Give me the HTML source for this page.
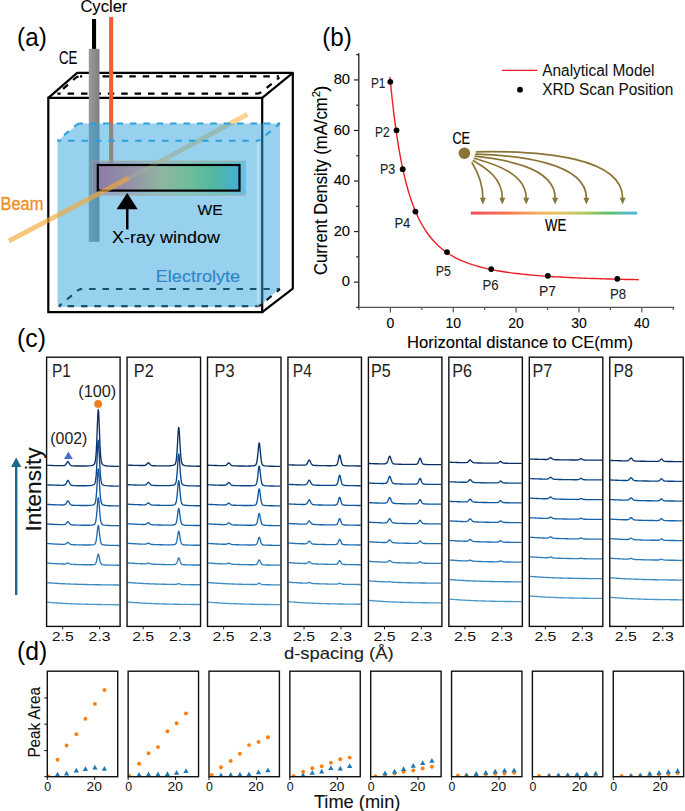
<!DOCTYPE html>
<html><head><meta charset="utf-8"><title>Figure</title>
<style>html,body{margin:0;padding:0;background:#fff;} svg{display:block;} text{font-family:"Liberation Sans", sans-serif;}</style>
</head><body>
<svg width="685" height="811" viewBox="0 0 685 811">
<rect width="685" height="811" fill="#fff"/>
<defs>
<linearGradient id="weg" x1="0" x2="1" y1="0" y2="0"><stop offset="0" stop-color="#8d7ca6"/><stop offset="0.25" stop-color="#9494a8"/><stop offset="0.45" stop-color="#8fb6a0"/><stop offset="0.65" stop-color="#6dbd9c"/><stop offset="0.82" stop-color="#52b8a2"/><stop offset="1" stop-color="#45aed8"/></linearGradient>
<linearGradient id="barg" x1="0" x2="1" y1="0" y2="0"><stop offset="0" stop-color="#f04a5c"/><stop offset="0.22" stop-color="#f2784e"/><stop offset="0.4" stop-color="#f5b060"/><stop offset="0.55" stop-color="#e2c862"/><stop offset="0.7" stop-color="#a8c860"/><stop offset="0.83" stop-color="#62c070"/><stop offset="1" stop-color="#4cb8e8"/></linearGradient>
<linearGradient id="rodg" x1="0" x2="1" y1="0" y2="0"><stop offset="0" stop-color="#9a9a9a"/><stop offset="0.5" stop-color="#8e8e8e"/><stop offset="1" stop-color="#7e7e7e"/></linearGradient>
</defs>
<g fill="none" stroke="#000" stroke-width="2.2" stroke-linejoin="round">
<path d="M48.3,97.8 L77.2,72.9 L292.8,72.9 L292.8,288.6 L262.2,312.1"/>
<path d="M262.2,97.8 L292.8,72.9"/>
</g>
<line x1="57.5" y1="93.7" x2="257" y2="93.7" stroke="#000" stroke-width="2.2" stroke-dasharray="6.5,6.9" stroke-dashoffset="3.30" />
<line x1="80" y1="76.4" x2="279" y2="76.4" stroke="#000" stroke-width="2.2" stroke-dasharray="6.5,6.9" stroke-dashoffset="4.30" />
<path d="M57.5,93.7 L75.5,78 Q77.5,76.4 80,76.4" fill="none" stroke="#000" stroke-width="2.2" stroke-dasharray="6.5,6.9" stroke-dashoffset="6"/>
<path d="M257,93.7 Q259.5,93.7 261.5,92 L279.5,77.5" fill="none" stroke="#000" stroke-width="2.2" stroke-dasharray="6.5,6.9" stroke-dashoffset="2"/>
<line x1="59" y1="306.2" x2="257" y2="306.2" stroke="#000" stroke-width="2.2" stroke-dasharray="6.5,6.9" stroke-dashoffset="4.80" />
<line x1="80" y1="289" x2="280" y2="289" stroke="#000" stroke-width="2.2" stroke-dasharray="6.5,6.9" stroke-dashoffset="4.30" />
<path d="M59,306.2 L77,291 Q79,289 82,289" fill="none" stroke="#000" stroke-width="2.2" stroke-dasharray="6.5,6.9" stroke-dashoffset="3"/>
<path d="M257,306.2 Q259,306.2 261,304.6 L280,289" fill="none" stroke="#000" stroke-width="2.2" stroke-dasharray="6.5,6.9" stroke-dashoffset="2"/>
<line x1="128.5" y1="178.6" x2="247.5" y2="114.3" stroke="#fbc878" stroke-width="5" stroke-opacity="0.8"/>
<path d="M48.3,97.8 L48.3,312.1 L262.2,312.1 L262.2,97.8 Z" fill="none" stroke="#000" stroke-width="2.2"/>
<rect x="92" y="19" width="4.1" height="30" fill="#000"/>
<rect x="88.8" y="48.8" width="10.7" height="193" fill="url(#rodg)"/>
<rect x="109.1" y="17" width="4.1" height="146" fill="#f0602a"/>
<path d="M57.5,140.7 L79,123.5 L280,123.5 L280,288.8 L258,307 L57.5,307 Z" fill="#31a3dd" fill-opacity="0.5"/>
<rect x="257" y="140.7" width="2.2" height="166.3" fill="#ffffff" fill-opacity="0.3"/>
<line x1="57.5" y1="140.7" x2="257" y2="140.7" stroke="#2aa0dc" stroke-width="2.1" stroke-dasharray="6.5,6.9" stroke-dashoffset="2.75" />
<line x1="80" y1="123.5" x2="280" y2="123.5" stroke="#2aa0dc" stroke-width="2.1" stroke-dasharray="6.5,6.9" stroke-dashoffset="3.70" />
<path d="M57.5,140.7 L76,125.2 Q78,123.5 80.5,123.5" fill="none" stroke="#2aa0dc" stroke-width="2.1" stroke-dasharray="6.5,6.9" stroke-dashoffset="5"/>
<path d="M257,140.7 Q259,140.7 261,139.1 L280,123.5" fill="none" stroke="#2aa0dc" stroke-width="2.1" stroke-dasharray="6.5,6.9" stroke-dashoffset="3"/>
<rect x="92.6" y="161" width="152.8" height="34.2" fill="url(#weg)" fill-opacity="0.55" stroke="#a8a890" stroke-width="0.8" stroke-opacity="0.8"/>
<rect x="97.8" y="165" width="141.7" height="25.6" fill="url(#weg)" stroke="#000" stroke-width="2.2"/>
<line x1="128.5" y1="178.6" x2="170" y2="156.3" stroke="#d8c090" stroke-width="4" stroke-opacity="0.18"/>
<line x1="9" y1="240.8" x2="128.8" y2="178" stroke="#f2a838" stroke-width="4.8" stroke-opacity="0.66"/>
<path d="M127.2,193 L137.7,209.3 L116.6,209.3 Z" fill="#000"/>
<rect x="126" y="208" width="2.5" height="21.4" fill="#000"/>
<text x="17.10" y="46.10" font-size="26" fill="#000" textLength="29.70" lengthAdjust="spacingAndGlyphs" stroke="#000" stroke-width="0.0" >(a)</text>
<text x="80.40" y="12.40" font-size="15.8" fill="#000" textLength="46.99" lengthAdjust="spacingAndGlyphs" stroke="#000" stroke-width="0.1" >Cycler</text>
<text x="59.00" y="63.90" font-size="17.5" fill="#000" textLength="18.30" lengthAdjust="spacingAndGlyphs" stroke="#000" stroke-width="0.1" >CE</text>
<text x="0.50" y="209.80" font-size="17.5" fill="#f08c20" textLength="42.91" lengthAdjust="spacingAndGlyphs" stroke="#f08c20" stroke-width="0.3" >Beam</text>
<text x="197.40" y="214.70" font-size="15.3" fill="#000" textLength="25.20" lengthAdjust="spacingAndGlyphs" stroke="#000" stroke-width="0.1" >WE</text>
<text x="112.00" y="242.50" font-size="15.6" fill="#000" textLength="107.95" lengthAdjust="spacingAndGlyphs" stroke="#000" stroke-width="0.1" >X-ray window</text>
<text x="155.80" y="281.50" font-size="16.8" fill="#2e86c8" textLength="84.31" lengthAdjust="spacingAndGlyphs" stroke="#2e86c8" stroke-width="0.15" >Electrolyte</text>
<text x="322.30" y="45.50" font-size="26" fill="#000" textLength="29.60" lengthAdjust="spacingAndGlyphs" stroke="#000" stroke-width="0.0" >(b)</text>
<line x1="358.8" y1="53.2" x2="358.8" y2="308" stroke="#222" stroke-width="1.3"/>
<line x1="358.2" y1="307.4" x2="674.2" y2="307.4" stroke="#555" stroke-width="1.4"/>
<line x1="356.20" y1="307.37" x2="358.8" y2="307.37" stroke="#222" stroke-width="1.2"/>
<line x1="354.00" y1="282.10" x2="358.8" y2="282.10" stroke="#222" stroke-width="1.2"/>
<line x1="356.20" y1="256.83" x2="358.8" y2="256.83" stroke="#222" stroke-width="1.2"/>
<line x1="354.00" y1="231.56" x2="358.8" y2="231.56" stroke="#222" stroke-width="1.2"/>
<line x1="356.20" y1="206.29" x2="358.8" y2="206.29" stroke="#222" stroke-width="1.2"/>
<line x1="354.00" y1="181.02" x2="358.8" y2="181.02" stroke="#222" stroke-width="1.2"/>
<line x1="356.20" y1="155.75" x2="358.8" y2="155.75" stroke="#222" stroke-width="1.2"/>
<line x1="354.00" y1="130.48" x2="358.8" y2="130.48" stroke="#222" stroke-width="1.2"/>
<line x1="356.20" y1="105.21" x2="358.8" y2="105.21" stroke="#222" stroke-width="1.2"/>
<line x1="354.00" y1="79.94" x2="358.8" y2="79.94" stroke="#222" stroke-width="1.2"/>
<line x1="356.20" y1="54.67" x2="358.8" y2="54.67" stroke="#222" stroke-width="1.2"/>
<line x1="358.97" y1="307.4" x2="358.97" y2="310.00" stroke="#555" stroke-width="1.2"/>
<line x1="390.40" y1="307.4" x2="390.40" y2="312.40" stroke="#555" stroke-width="1.2"/>
<line x1="421.82" y1="307.4" x2="421.82" y2="310.00" stroke="#555" stroke-width="1.2"/>
<line x1="453.25" y1="307.4" x2="453.25" y2="312.40" stroke="#555" stroke-width="1.2"/>
<line x1="484.67" y1="307.4" x2="484.67" y2="310.00" stroke="#555" stroke-width="1.2"/>
<line x1="516.10" y1="307.4" x2="516.10" y2="312.40" stroke="#555" stroke-width="1.2"/>
<line x1="547.52" y1="307.4" x2="547.52" y2="310.00" stroke="#555" stroke-width="1.2"/>
<line x1="578.95" y1="307.4" x2="578.95" y2="312.40" stroke="#555" stroke-width="1.2"/>
<line x1="610.38" y1="307.4" x2="610.38" y2="310.00" stroke="#555" stroke-width="1.2"/>
<line x1="641.80" y1="307.4" x2="641.80" y2="312.40" stroke="#555" stroke-width="1.2"/>
<line x1="673.22" y1="307.4" x2="673.22" y2="310.00" stroke="#555" stroke-width="1.2"/>
<text x="341.87" y="286.30" font-size="14.8" fill="#000" textLength="8.23" lengthAdjust="spacingAndGlyphs" stroke="#000" stroke-width="0.1" >0</text>
<text x="333.64" y="235.76" font-size="14.8" fill="#000" textLength="16.46" lengthAdjust="spacingAndGlyphs" stroke="#000" stroke-width="0.1" >20</text>
<text x="333.64" y="185.22" font-size="14.8" fill="#000" textLength="16.46" lengthAdjust="spacingAndGlyphs" stroke="#000" stroke-width="0.1" >40</text>
<text x="333.64" y="134.68" font-size="14.8" fill="#000" textLength="16.46" lengthAdjust="spacingAndGlyphs" stroke="#000" stroke-width="0.1" >60</text>
<text x="333.64" y="84.14" font-size="14.8" fill="#000" textLength="16.46" lengthAdjust="spacingAndGlyphs" stroke="#000" stroke-width="0.1" >80</text>
<text x="386.51" y="328.00" font-size="14" fill="#000" textLength="7.79" lengthAdjust="spacingAndGlyphs" stroke="#000" stroke-width="0.1" >0</text>
<text x="445.47" y="328.00" font-size="14" fill="#000" textLength="15.57" lengthAdjust="spacingAndGlyphs" stroke="#000" stroke-width="0.1" >10</text>
<text x="508.32" y="328.00" font-size="14" fill="#000" textLength="15.57" lengthAdjust="spacingAndGlyphs" stroke="#000" stroke-width="0.1" >20</text>
<text x="571.17" y="328.00" font-size="14" fill="#000" textLength="15.57" lengthAdjust="spacingAndGlyphs" stroke="#000" stroke-width="0.1" >30</text>
<text x="634.02" y="328.00" font-size="14" fill="#000" textLength="15.57" lengthAdjust="spacingAndGlyphs" stroke="#000" stroke-width="0.1" >40</text>
<text x="407.00" y="347.80" font-size="16.5" fill="#000" textLength="226.01" lengthAdjust="spacingAndGlyphs" stroke="#000" stroke-width="0.1" >Horizontal distance to CE(mm)</text>
<text transform="translate(326.90,275.00) rotate(-90)" x="0" y="0" font-size="17.5" fill="#000" textLength="177.69" lengthAdjust="spacingAndGlyphs" stroke="#000" stroke-width="0.1">Current Density (mA/cm</text>
<text transform="translate(319.80,97.30) rotate(-90)" x="0" y="0" font-size="11" fill="#000" textLength="6.20" lengthAdjust="spacingAndGlyphs" stroke="#000" stroke-width="0.1">2</text>
<text transform="translate(326.90,91.70) rotate(-90)" x="0" y="0" font-size="17.5" fill="#000" textLength="6.10" lengthAdjust="spacingAndGlyphs" stroke="#000" stroke-width="0.1">)</text>
<path d="M389.96,76.92 L390.59,83.56 L391.22,89.90 L391.85,95.95 L392.47,101.73 L393.10,107.27 L393.73,112.56 L394.36,117.63 L394.99,122.49 L395.62,127.14 L396.25,131.61 L396.87,135.89 L397.50,140.00 L398.13,143.95 L398.76,147.75 L399.39,151.39 L400.02,154.90 L400.64,158.28 L401.27,161.53 L401.90,164.66 L402.53,167.68 L403.16,170.58 L403.79,173.39 L404.42,176.09 L405.04,178.70 L405.67,181.22 L406.30,183.65 L406.93,186.00 L407.56,188.27 L408.19,190.47 L408.82,192.59 L409.44,194.64 L410.07,196.63 L410.70,198.55 L411.33,200.42 L411.96,202.22 L412.59,203.97 L413.21,205.66 L413.84,207.30 L414.47,208.90 L415.10,210.44 L415.73,211.94 L416.36,213.40 L416.99,214.81 L417.61,216.18 L418.24,217.51 L418.87,218.80 L419.50,220.06 L420.13,221.28 L420.76,222.47 L421.39,223.63 L422.01,224.75 L425.16,229.93 L428.30,234.47 L431.44,238.47 L434.58,242.01 L437.73,245.15 L440.87,247.95 L444.01,250.46 L447.15,252.72 L450.30,254.75 L453.44,256.59 L456.58,258.26 L459.72,259.78 L462.87,261.16 L466.01,262.42 L469.15,263.58 L472.29,264.65 L475.44,265.63 L478.58,266.53 L481.72,267.36 L484.86,268.13 L488.01,268.85 L491.15,269.51 L494.29,270.13 L497.43,270.71 L500.58,271.24 L503.72,271.75 L506.86,272.22 L510.00,272.66 L513.15,273.07 L516.29,273.46 L519.43,273.82 L522.57,274.16 L525.72,274.48 L528.86,274.79 L532.00,275.08 L535.14,275.35 L538.29,275.61 L541.43,275.85 L544.57,276.08 L547.71,276.30 L550.86,276.50 L554.00,276.70 L557.14,276.89 L560.28,277.07 L563.43,277.24 L566.57,277.40 L569.71,277.55 L572.85,277.70 L576.00,277.84 L579.14,277.97 L582.28,278.10 L585.42,278.23 L588.57,278.34 L591.71,278.45 L594.85,278.56 L597.99,278.67 L601.14,278.76 L604.28,278.86 L607.42,278.95 L610.56,279.04 L613.71,279.12 L616.85,279.20 L619.99,279.28 L623.13,279.36 L626.28,279.43 L629.42,279.50 L632.56,279.56 L635.70,279.63 L638.85,279.69" fill="none" stroke="#ee1c24" stroke-width="1.4"/>
<circle cx="390.3" cy="81.8" r="2.9" fill="#000"/>
<circle cx="396.5" cy="130.3" r="2.9" fill="#000"/>
<circle cx="402.7" cy="169.2" r="2.9" fill="#000"/>
<circle cx="415.4" cy="211.6" r="2.9" fill="#000"/>
<circle cx="447" cy="252.1" r="2.9" fill="#000"/>
<circle cx="491.2" cy="269.1" r="2.9" fill="#000"/>
<circle cx="547.8" cy="275.8" r="2.9" fill="#000"/>
<circle cx="617.3" cy="278.8" r="2.9" fill="#000"/>
<text x="370.90" y="87.70" font-size="14.4" fill="#222" textLength="14.50" lengthAdjust="spacingAndGlyphs" stroke="#222" stroke-width="0.1" >P1</text>
<text x="375.00" y="137.00" font-size="14.4" fill="#222" textLength="14.60" lengthAdjust="spacingAndGlyphs" stroke="#222" stroke-width="0.1" >P2</text>
<text x="380.00" y="174.30" font-size="14.4" fill="#222" textLength="15.30" lengthAdjust="spacingAndGlyphs" stroke="#222" stroke-width="0.1" >P3</text>
<text x="394.40" y="227.50" font-size="14.4" fill="#222" textLength="16.00" lengthAdjust="spacingAndGlyphs" stroke="#222" stroke-width="0.1" >P4</text>
<text x="435.80" y="275.60" font-size="14.4" fill="#222" textLength="15.20" lengthAdjust="spacingAndGlyphs" stroke="#222" stroke-width="0.1" >P5</text>
<text x="482.50" y="290.00" font-size="14.4" fill="#222" textLength="16.10" lengthAdjust="spacingAndGlyphs" stroke="#222" stroke-width="0.1" >P6</text>
<text x="539.00" y="295.70" font-size="14.4" fill="#222" textLength="17.00" lengthAdjust="spacingAndGlyphs" stroke="#222" stroke-width="0.1" >P7</text>
<text x="610.00" y="298.60" font-size="14.4" fill="#222" textLength="16.20" lengthAdjust="spacingAndGlyphs" stroke="#222" stroke-width="0.1" >P8</text>
<line x1="501.9" y1="70.3" x2="537.4" y2="70.3" stroke="#ee1c24" stroke-width="1.3"/>
<text x="542.20" y="75.80" font-size="15.6" fill="#111" textLength="112.30" lengthAdjust="spacingAndGlyphs" stroke="#111" stroke-width="0.05" >Analytical Model</text>
<circle cx="520" cy="89.7" r="2.9" fill="#000"/>
<text x="542.20" y="95.20" font-size="15.6" fill="#111" textLength="131.20" lengthAdjust="spacingAndGlyphs" stroke="#111" stroke-width="0.05" >XRD Scan Position</text>
<circle cx="464.4" cy="153.2" r="5.8" fill="#8b7536"/>
<text x="452.40" y="144.00" font-size="16" fill="#000" textLength="17.60" lengthAdjust="spacingAndGlyphs" stroke="#000" stroke-width="0.2" >CE</text>
<path d="M471.8,162.3 C476.5,170 482.9,183 482.9,198" fill="none" stroke="#8b7536" stroke-width="1.7"/>
<path d="M479.9,197.8 L485.9,197.8 L482.9,204.6 Z" fill="#8b7536"/>
<path d="M472.8,160.2 C482,166 502.3,176 502.3,198" fill="none" stroke="#8b7536" stroke-width="1.7"/>
<path d="M499.3,197.8 L505.3,197.8 L502.3,204.6 Z" fill="#8b7536"/>
<path d="M473.8,158.2 C490,163 526.2,172 526.2,198" fill="none" stroke="#8b7536" stroke-width="1.7"/>
<path d="M523.2,197.8 L529.2,197.8 L526.2,204.6 Z" fill="#8b7536"/>
<path d="M474.6,156.2 C500,159 555.1,166 555.1,198" fill="none" stroke="#8b7536" stroke-width="1.7"/>
<path d="M552.1,197.8 L558.1,197.8 L555.1,204.6 Z" fill="#8b7536"/>
<path d="M475.2,154.2 C515,155 586.4,162 586.4,198" fill="none" stroke="#8b7536" stroke-width="1.7"/>
<path d="M583.4,197.8 L589.4,197.8 L586.4,204.6 Z" fill="#8b7536"/>
<path d="M475.8,151.8 C545,150.5 622.6,158 622.6,198" fill="none" stroke="#8b7536" stroke-width="1.7"/>
<path d="M619.6,197.8 L625.6,197.8 L622.6,204.6 Z" fill="#8b7536"/>
<rect x="470.8" y="211.6" width="166.3" height="3" fill="url(#barg)"/>
<text x="545.10" y="230.70" font-size="17" fill="#000" textLength="21.10" lengthAdjust="spacingAndGlyphs" stroke="#000" stroke-width="0.2" >WE</text>
<text x="17.10" y="346.70" font-size="26" fill="#000" textLength="28.90" lengthAdjust="spacingAndGlyphs" stroke="#000" stroke-width="0.0" >(c)</text>
<clipPath id="cc0"><rect x="47.2" y="357.2" width="72.3" height="269.2"/></clipPath>
<g clip-path="url(#cc0)" fill="none" stroke-width="1.35" stroke-linejoin="round">
<path d="M46.60,602.15 L48.10,602.29 L49.60,602.42 L51.10,602.55 L52.60,602.67 L54.10,602.78 L55.60,602.89 L57.10,602.99 L58.60,603.09 L60.10,603.18 L61.60,603.27 L63.10,603.35 L63.50,603.38 L63.90,603.40 L64.30,603.42 L64.70,603.44 L65.10,603.46 L65.50,603.48 L65.90,603.50 L66.30,603.52 L66.70,603.54 L67.10,603.56 L67.50,603.58 L67.90,603.60 L68.30,603.62 L68.70,603.63 L69.10,603.65 L69.50,603.67 L69.90,603.69 L70.30,603.70 L70.70,603.72 L71.10,603.74 L71.50,603.75 L71.90,603.77 L72.30,603.79 L72.70,603.80 L73.10,603.82 L73.50,603.83 L73.90,603.85 L74.30,603.87 L75.80,603.92 L77.30,603.97 L78.80,604.02 L80.30,604.07 L81.80,604.12 L83.30,604.16 L84.80,604.20 L86.30,604.24 L87.80,604.27 L89.30,604.31 L90.80,604.34 L92.30,604.38 L93.80,604.41 L94.20,604.41 L94.60,604.42 L95.00,604.43 L95.40,604.44 L95.80,604.44 L96.20,604.45 L96.60,604.46 L97.00,604.47 L97.40,604.47 L97.80,604.48 L98.20,604.49 L98.60,604.49 L99.00,604.50 L99.40,604.51 L99.80,604.51 L100.20,604.52 L100.60,604.53 L101.00,604.53 L101.40,604.54 L101.80,604.54 L102.20,604.55 L102.60,604.56 L103.00,604.56 L103.40,604.57 L103.80,604.57 L104.20,604.58 L104.60,604.58 L106.10,604.60 L107.60,604.62 L109.10,604.64 L110.60,604.66 L112.10,604.67 L113.60,604.69 L115.10,604.71 L116.60,604.72 L118.10,604.73 L119.60,604.75" stroke="#4a98c9"/>
<path d="M46.60,582.60 L48.10,582.73 L49.60,582.85 L51.10,582.97 L52.60,583.08 L54.10,583.18 L55.60,583.28 L57.10,583.38 L58.60,583.47 L60.10,583.55 L61.60,583.63 L63.10,583.71 L63.50,583.73 L63.90,583.75 L64.30,583.77 L64.70,583.79 L65.10,583.81 L65.50,583.83 L65.90,583.85 L66.30,583.86 L66.70,583.88 L67.10,583.90 L67.50,583.92 L67.90,583.94 L68.30,583.95 L68.70,583.97 L69.10,583.99 L69.50,584.00 L69.90,584.02 L70.30,584.03 L70.70,584.05 L71.10,584.07 L71.50,584.08 L71.90,584.10 L72.30,584.11 L72.70,584.13 L73.10,584.14 L73.50,584.16 L73.90,584.17 L74.30,584.18 L75.80,584.23 L77.30,584.28 L78.80,584.33 L80.30,584.37 L81.80,584.41 L83.30,584.45 L84.80,584.49 L86.30,584.53 L87.80,584.56 L89.30,584.59 L90.80,584.62 L92.30,584.65 L93.80,584.68 L94.20,584.69 L94.60,584.70 L95.00,584.70 L95.40,584.71 L95.80,584.72 L96.20,584.72 L96.60,584.73 L97.00,584.74 L97.40,584.74 L97.80,584.75 L98.20,584.76 L98.60,584.76 L99.00,584.77 L99.40,584.77 L99.80,584.78 L100.20,584.79 L100.60,584.79 L101.00,584.80 L101.40,584.80 L101.80,584.81 L102.20,584.82 L102.60,584.82 L103.00,584.83 L103.40,584.83 L103.80,584.84 L104.20,584.84 L104.60,584.85 L106.10,584.87 L107.60,584.88 L109.10,584.90 L110.60,584.92 L112.10,584.93 L113.60,584.95 L115.10,584.96 L116.60,584.97 L118.10,584.98 L119.60,585.00" stroke="#3b8bc2"/>
<path d="M46.60,563.04 L48.10,563.16 L49.60,563.27 L51.10,563.38 L52.60,563.48 L54.10,563.57 L55.60,563.66 L57.10,563.75 L58.60,563.83 L60.10,563.90 L61.60,563.97 L63.10,564.02 L63.50,564.03 L63.90,564.03 L64.30,564.02 L64.70,564.00 L65.10,563.95 L65.50,563.88 L65.90,563.76 L66.30,563.60 L66.70,563.42 L67.10,563.24 L67.50,563.11 L67.90,563.07 L68.30,563.14 L68.70,563.30 L69.10,563.51 L69.50,563.73 L69.90,563.91 L70.30,564.06 L70.70,564.17 L71.10,564.25 L71.50,564.30 L71.90,564.34 L72.30,564.37 L72.70,564.39 L73.10,564.41 L73.50,564.43 L73.90,564.45 L74.30,564.46 L75.80,564.52 L77.30,564.56 L78.80,564.61 L80.30,564.64 L81.80,564.68 L83.30,564.71 L84.80,564.74 L86.30,564.76 L87.80,564.78 L89.30,564.78 L90.80,564.77 L92.30,564.73 L93.80,564.61 L94.20,564.54 L94.60,564.43 L95.00,564.24 L95.40,563.89 L95.80,563.29 L96.20,562.31 L96.60,560.87 L97.00,559.01 L97.40,556.92 L97.80,555.06 L98.20,554.07 L98.60,554.42 L99.00,555.94 L99.40,558.00 L99.80,560.03 L100.20,561.70 L100.60,562.92 L101.00,563.71 L101.40,564.18 L101.80,564.45 L102.20,564.61 L102.60,564.71 L103.00,564.77 L103.40,564.82 L103.80,564.86 L104.20,564.90 L104.60,564.93 L106.10,565.01 L107.60,565.06 L109.10,565.09 L110.60,565.12 L112.10,565.15 L113.60,565.17 L115.10,565.19 L116.60,565.20 L118.10,565.22 L119.60,565.23" stroke="#2e7ebc"/>
<path d="M46.60,543.49 L48.10,543.60 L49.60,543.70 L51.10,543.79 L52.60,543.88 L54.10,543.97 L55.60,544.05 L57.10,544.12 L58.60,544.19 L60.10,544.25 L61.60,544.30 L63.10,544.34 L63.50,544.33 L63.90,544.32 L64.30,544.29 L64.70,544.24 L65.10,544.13 L65.50,543.97 L65.90,543.74 L66.30,543.44 L66.70,543.09 L67.10,542.75 L67.50,542.49 L67.90,542.40 L68.30,542.52 L68.70,542.81 L69.10,543.18 L69.50,543.55 L69.90,543.88 L70.30,544.14 L70.70,544.33 L71.10,544.46 L71.50,544.55 L71.90,544.60 L72.30,544.64 L72.70,544.67 L73.10,544.69 L73.50,544.72 L73.90,544.73 L74.30,544.75 L75.80,544.80 L77.30,544.85 L78.80,544.89 L80.30,544.92 L81.80,544.95 L83.30,544.98 L84.80,544.99 L86.30,545.01 L87.80,545.01 L89.30,544.99 L90.80,544.95 L92.30,544.85 L93.80,544.60 L94.20,544.47 L94.60,544.26 L95.00,543.91 L95.40,543.27 L95.80,542.16 L96.20,540.38 L96.60,537.77 L97.00,534.37 L97.40,530.57 L97.80,527.18 L98.20,525.38 L98.60,526.01 L99.00,528.77 L99.40,532.51 L99.80,536.19 L100.20,539.23 L100.60,541.43 L101.00,542.86 L101.40,543.71 L101.80,544.20 L102.20,544.49 L102.60,544.66 L103.00,544.78 L103.40,544.87 L103.80,544.94 L104.20,544.99 L104.60,545.04 L106.10,545.17 L107.60,545.25 L109.10,545.30 L110.60,545.34 L112.10,545.37 L113.60,545.40 L115.10,545.42 L116.60,545.44 L118.10,545.45 L119.60,545.47" stroke="#2070b4"/>
<path d="M46.60,523.94 L48.10,524.03 L49.60,524.12 L51.10,524.21 L52.60,524.29 L54.10,524.36 L55.60,524.43 L57.10,524.50 L58.60,524.56 L60.10,524.61 L61.60,524.64 L63.10,524.65 L63.50,524.64 L63.90,524.62 L64.30,524.56 L64.70,524.47 L65.10,524.31 L65.50,524.07 L65.90,523.73 L66.30,523.28 L66.70,522.77 L67.10,522.26 L67.50,521.87 L67.90,521.73 L68.30,521.90 L68.70,522.31 L69.10,522.84 L69.50,523.38 L69.90,523.85 L70.30,524.22 L70.70,524.49 L71.10,524.67 L71.50,524.79 L71.90,524.86 L72.30,524.91 L72.70,524.95 L73.10,524.98 L73.50,525.00 L73.90,525.02 L74.30,525.04 L75.80,525.09 L77.30,525.14 L78.80,525.17 L80.30,525.20 L81.80,525.23 L83.30,525.24 L84.80,525.25 L86.30,525.26 L87.80,525.24 L89.30,525.21 L90.80,525.13 L92.30,524.98 L93.80,524.63 L94.20,524.44 L94.60,524.15 L95.00,523.64 L95.40,522.75 L95.80,521.20 L96.20,518.70 L96.60,515.03 L97.00,510.28 L97.40,504.95 L97.80,500.21 L98.20,497.68 L98.60,498.57 L99.00,502.43 L99.40,507.65 L99.80,512.81 L100.20,517.06 L100.60,520.14 L101.00,522.14 L101.40,523.33 L101.80,524.01 L102.20,524.41 L102.60,524.65 L103.00,524.81 L103.40,524.93 L103.80,525.03 L104.20,525.11 L104.60,525.17 L106.10,525.34 L107.60,525.44 L109.10,525.51 L110.60,525.56 L112.10,525.60 L113.60,525.63 L115.10,525.65 L116.60,525.67 L118.10,525.69 L119.60,525.70" stroke="#1764ab"/>
<path d="M46.60,504.38 L48.10,504.47 L49.60,504.54 L51.10,504.62 L52.60,504.69 L54.10,504.75 L55.60,504.81 L57.10,504.87 L58.60,504.92 L60.10,504.95 L61.60,504.98 L63.10,504.96 L63.50,504.94 L63.90,504.90 L64.30,504.82 L64.70,504.68 L65.10,504.46 L65.50,504.12 L65.90,503.64 L66.30,503.02 L66.70,502.31 L67.10,501.60 L67.50,501.06 L67.90,500.86 L68.30,501.09 L68.70,501.65 L69.10,502.37 L69.50,503.10 L69.90,503.75 L70.30,504.25 L70.70,504.61 L71.10,504.86 L71.50,505.01 L71.90,505.11 L72.30,505.18 L72.70,505.22 L73.10,505.25 L73.50,505.28 L73.90,505.30 L74.30,505.32 L75.80,505.38 L77.30,505.42 L78.80,505.45 L80.30,505.48 L81.80,505.50 L83.30,505.51 L84.80,505.51 L86.30,505.50 L87.80,505.47 L89.30,505.41 L90.80,505.31 L92.30,505.09 L93.80,504.62 L94.20,504.37 L94.60,503.98 L95.00,503.31 L95.40,502.13 L95.80,500.08 L96.20,496.77 L96.60,491.93 L97.00,485.64 L97.40,478.60 L97.80,472.33 L98.20,468.98 L98.60,470.16 L99.00,475.26 L99.40,482.16 L99.80,488.97 L100.20,494.59 L100.60,498.65 L101.00,501.29 L101.40,502.87 L101.80,503.77 L102.20,504.28 L102.60,504.60 L103.00,504.82 L103.40,504.97 L103.80,505.10 L104.20,505.20 L104.60,505.29 L106.10,505.50 L107.60,505.63 L109.10,505.72 L110.60,505.78 L112.10,505.82 L113.60,505.85 L115.10,505.88 L116.60,505.90 L118.10,505.92 L119.60,505.94" stroke="#0d57a1"/>
<path d="M46.60,484.83 L48.10,484.90 L49.60,484.97 L51.10,485.03 L52.60,485.09 L54.10,485.15 L55.60,485.20 L57.10,485.24 L58.60,485.28 L60.10,485.31 L61.60,485.32 L63.10,485.28 L63.50,485.25 L63.90,485.20 L64.30,485.10 L64.70,484.94 L65.10,484.67 L65.50,484.27 L65.90,483.69 L66.30,482.96 L66.70,482.11 L67.10,481.28 L67.50,480.64 L67.90,480.39 L68.30,480.65 L68.70,481.31 L69.10,482.17 L69.50,483.03 L69.90,483.78 L70.30,484.38 L70.70,484.80 L71.10,485.09 L71.50,485.27 L71.90,485.38 L72.30,485.45 L72.70,485.50 L73.10,485.54 L73.50,485.57 L73.90,485.59 L74.30,485.61 L75.80,485.67 L77.30,485.71 L78.80,485.74 L80.30,485.76 L81.80,485.77 L83.30,485.77 L84.80,485.77 L86.30,485.74 L87.80,485.70 L89.30,485.62 L90.80,485.48 L92.30,485.21 L93.80,484.61 L94.20,484.30 L94.60,483.81 L95.00,482.98 L95.40,481.50 L95.80,478.96 L96.20,474.84 L96.60,468.82 L97.00,461.00 L97.40,452.25 L97.80,444.45 L98.20,440.29 L98.60,441.75 L99.00,448.09 L99.40,456.67 L99.80,465.13 L100.20,472.11 L100.60,477.17 L101.00,480.45 L101.40,482.40 L101.80,483.52 L102.20,484.16 L102.60,484.56 L103.00,484.82 L103.40,485.02 L103.80,485.17 L104.20,485.30 L104.60,485.40 L106.10,485.67 L107.60,485.82 L109.10,485.92 L110.60,485.99 L112.10,486.04 L113.60,486.08 L115.10,486.11 L116.60,486.14 L118.10,486.16 L119.60,486.18" stroke="#08468a"/>
<path d="M46.60,465.28 L48.10,465.34 L49.60,465.40 L51.10,465.45 L52.60,465.50 L54.10,465.55 L55.60,465.59 L57.10,465.63 L58.60,465.66 L60.10,465.69 L61.60,465.70 L63.10,465.67 L63.50,465.64 L63.90,465.60 L64.30,465.52 L64.70,465.38 L65.10,465.16 L65.50,464.83 L65.90,464.35 L66.30,463.74 L66.70,463.05 L67.10,462.36 L67.50,461.82 L67.90,461.63 L68.30,461.84 L68.70,462.39 L69.10,463.09 L69.50,463.80 L69.90,464.43 L70.30,464.92 L70.70,465.27 L71.10,465.50 L71.50,465.65 L71.90,465.75 L72.30,465.81 L72.70,465.85 L73.10,465.88 L73.50,465.90 L73.90,465.92 L74.30,465.94 L75.80,465.98 L77.30,466.01 L78.80,466.03 L80.30,466.04 L81.80,466.04 L83.30,466.04 L84.80,466.02 L86.30,465.98 L87.80,465.92 L89.30,465.82 L90.80,465.63 L92.30,465.29 L93.80,464.55 L94.20,464.16 L94.60,463.55 L95.00,462.52 L95.40,460.69 L95.80,457.53 L96.20,452.43 L96.60,444.97 L97.00,435.27 L97.40,424.43 L97.80,414.76 L98.20,409.61 L98.60,411.41 L99.00,419.27 L99.40,429.90 L99.80,440.38 L100.20,449.03 L100.60,455.29 L101.00,459.36 L101.40,461.78 L101.80,463.16 L102.20,463.96 L102.60,464.44 L103.00,464.77 L103.40,465.01 L103.80,465.20 L104.20,465.35 L104.60,465.48 L106.10,465.81 L107.60,466.00 L109.10,466.12 L110.60,466.20 L112.10,466.26 L113.60,466.31 L115.10,466.34 L116.60,466.37 L118.10,466.39 L119.60,466.41" stroke="#08306b"/>
</g>
<rect x="46.6" y="357.2" width="73.5" height="269.2" fill="none" stroke="#111" stroke-width="1.4"/>
<line x1="62.70" y1="626.4" x2="62.70" y2="629.4" stroke="#222" stroke-width="1"/>
<line x1="99.60" y1="626.4" x2="99.60" y2="629.4" stroke="#222" stroke-width="1"/>
<text x="51.74" y="641.00" font-size="13.6" fill="#111" textLength="21.93" lengthAdjust="spacingAndGlyphs" stroke="#111" stroke-width="0" >2.5</text>
<text x="88.64" y="641.00" font-size="13.6" fill="#111" textLength="21.93" lengthAdjust="spacingAndGlyphs" stroke="#111" stroke-width="0" >2.3</text>
<clipPath id="cc1"><rect x="127.65" y="357.2" width="72.3" height="269.2"/></clipPath>
<g clip-path="url(#cc1)" fill="none" stroke-width="1.35" stroke-linejoin="round">
<path d="M127.05,601.95 L128.55,602.09 L130.05,602.22 L131.55,602.35 L133.05,602.47 L134.55,602.58 L136.05,602.69 L137.55,602.79 L139.05,602.89 L140.55,602.98 L142.05,603.07 L143.55,603.15 L143.95,603.18 L144.35,603.20 L144.75,603.22 L145.15,603.24 L145.55,603.26 L145.95,603.28 L146.35,603.30 L146.75,603.32 L147.15,603.34 L147.55,603.36 L147.95,603.38 L148.35,603.40 L148.75,603.42 L149.15,603.43 L149.55,603.45 L149.95,603.47 L150.35,603.49 L150.75,603.50 L151.15,603.52 L151.55,603.54 L151.95,603.55 L152.35,603.57 L152.75,603.59 L153.15,603.60 L153.55,603.62 L153.95,603.63 L154.35,603.65 L154.75,603.67 L156.25,603.72 L157.75,603.77 L159.25,603.82 L160.75,603.87 L162.25,603.92 L163.75,603.96 L165.25,604.00 L166.75,604.04 L168.25,604.07 L169.75,604.11 L171.25,604.14 L172.75,604.18 L174.25,604.21 L174.65,604.21 L175.05,604.22 L175.45,604.23 L175.85,604.24 L176.25,604.24 L176.65,604.25 L177.05,604.26 L177.45,604.27 L177.85,604.27 L178.25,604.28 L178.65,604.29 L179.05,604.29 L179.45,604.30 L179.85,604.31 L180.25,604.31 L180.65,604.32 L181.05,604.33 L181.45,604.33 L181.85,604.34 L182.25,604.34 L182.65,604.35 L183.05,604.36 L183.45,604.36 L183.85,604.37 L184.25,604.37 L184.65,604.38 L185.05,604.38 L186.55,604.40 L188.05,604.42 L189.55,604.44 L191.05,604.46 L192.55,604.47 L194.05,604.49 L195.55,604.51 L197.05,604.52 L198.55,604.53 L200.05,604.55" stroke="#4a98c9"/>
<path d="M127.05,582.40 L128.55,582.53 L130.05,582.65 L131.55,582.77 L133.05,582.88 L134.55,582.98 L136.05,583.08 L137.55,583.18 L139.05,583.27 L140.55,583.35 L142.05,583.43 L143.55,583.51 L143.95,583.53 L144.35,583.55 L144.75,583.57 L145.15,583.59 L145.55,583.61 L145.95,583.63 L146.35,583.65 L146.75,583.66 L147.15,583.68 L147.55,583.70 L147.95,583.72 L148.35,583.73 L148.75,583.75 L149.15,583.77 L149.55,583.79 L149.95,583.80 L150.35,583.82 L150.75,583.83 L151.15,583.85 L151.55,583.87 L151.95,583.88 L152.35,583.90 L152.75,583.91 L153.15,583.93 L153.55,583.94 L153.95,583.95 L154.35,583.97 L154.75,583.98 L156.25,584.03 L157.75,584.08 L159.25,584.13 L160.75,584.17 L162.25,584.21 L163.75,584.25 L165.25,584.29 L166.75,584.32 L168.25,584.36 L169.75,584.39 L171.25,584.41 L172.75,584.44 L174.25,584.45 L174.65,584.45 L175.05,584.45 L175.45,584.44 L175.85,584.41 L176.25,584.36 L176.65,584.28 L177.05,584.16 L177.45,583.99 L177.85,583.81 L178.25,583.64 L178.65,583.56 L179.05,583.60 L179.45,583.74 L179.85,583.93 L180.25,584.12 L180.65,584.28 L181.05,584.40 L181.45,584.47 L181.85,584.52 L182.25,584.55 L182.65,584.57 L183.05,584.59 L183.45,584.60 L183.85,584.61 L184.25,584.62 L184.65,584.62 L185.05,584.63 L186.55,584.65 L188.05,584.68 L189.55,584.69 L191.05,584.71 L192.55,584.73 L194.05,584.74 L195.55,584.76 L197.05,584.77 L198.55,584.78 L200.05,584.79" stroke="#3b8bc2"/>
<path d="M127.05,562.85 L128.55,562.96 L130.05,563.07 L131.55,563.18 L133.05,563.28 L134.55,563.38 L136.05,563.47 L137.55,563.55 L139.05,563.63 L140.55,563.71 L142.05,563.77 L143.55,563.83 L143.95,563.84 L144.35,563.84 L144.75,563.84 L145.15,563.83 L145.55,563.79 L145.95,563.73 L146.35,563.63 L146.75,563.50 L147.15,563.36 L147.55,563.21 L147.95,563.10 L148.35,563.07 L148.75,563.13 L149.15,563.27 L149.55,563.45 L149.95,563.63 L150.35,563.79 L150.75,563.91 L151.15,564.01 L151.55,564.08 L151.95,564.12 L152.35,564.16 L152.75,564.18 L153.15,564.21 L153.55,564.22 L153.95,564.24 L154.35,564.26 L154.75,564.27 L156.25,564.32 L157.75,564.37 L159.25,564.41 L160.75,564.45 L162.25,564.49 L163.75,564.52 L165.25,564.55 L166.75,564.58 L168.25,564.60 L169.75,564.62 L171.25,564.62 L172.75,564.60 L174.25,564.54 L174.65,564.50 L175.05,564.43 L175.45,564.31 L175.85,564.09 L176.25,563.71 L176.65,563.09 L177.05,562.17 L177.45,560.99 L177.85,559.66 L178.25,558.48 L178.65,557.85 L179.05,558.08 L179.45,559.05 L179.85,560.36 L180.25,561.65 L180.65,562.72 L181.05,563.50 L181.45,564.00 L181.85,564.30 L182.25,564.48 L182.65,564.58 L183.05,564.64 L183.45,564.69 L183.85,564.72 L184.25,564.75 L184.65,564.77 L185.05,564.79 L186.55,564.85 L188.05,564.89 L189.55,564.92 L191.05,564.94 L192.55,564.96 L194.05,564.98 L195.55,565.00 L197.05,565.01 L198.55,565.02 L200.05,565.04" stroke="#2e7ebc"/>
<path d="M127.05,543.29 L128.55,543.40 L130.05,543.50 L131.55,543.60 L133.05,543.69 L134.55,543.77 L136.05,543.86 L137.55,543.93 L139.05,544.00 L140.55,544.07 L142.05,544.13 L143.55,544.17 L143.95,544.18 L144.35,544.18 L144.75,544.17 L145.15,544.15 L145.55,544.10 L145.95,544.02 L146.35,543.90 L146.75,543.74 L147.15,543.56 L147.55,543.38 L147.95,543.25 L148.35,543.20 L148.75,543.27 L149.15,543.44 L149.55,543.65 L149.95,543.86 L150.35,544.04 L150.75,544.19 L151.15,544.30 L151.55,544.38 L151.95,544.43 L152.35,544.47 L152.75,544.49 L153.15,544.51 L153.55,544.53 L153.95,544.55 L154.35,544.56 L154.75,544.58 L156.25,544.63 L157.75,544.67 L159.25,544.71 L160.75,544.74 L162.25,544.77 L163.75,544.80 L165.25,544.82 L166.75,544.84 L168.25,544.85 L169.75,544.84 L171.25,544.82 L172.75,544.76 L174.25,544.59 L174.65,544.50 L175.05,544.36 L175.45,544.11 L175.85,543.67 L176.25,542.90 L176.65,541.65 L177.05,539.82 L177.45,537.44 L177.85,534.78 L178.25,532.41 L178.65,531.15 L179.05,531.60 L179.45,533.53 L179.85,536.15 L180.25,538.73 L180.65,540.86 L181.05,542.40 L181.45,543.40 L181.85,544.00 L182.25,544.34 L182.65,544.54 L183.05,544.67 L183.45,544.75 L183.85,544.81 L184.25,544.86 L184.65,544.91 L185.05,544.94 L186.55,545.03 L188.05,545.09 L189.55,545.13 L191.05,545.17 L192.55,545.19 L194.05,545.21 L195.55,545.23 L197.05,545.25 L198.55,545.26 L200.05,545.28" stroke="#2070b4"/>
<path d="M127.05,523.74 L128.55,523.84 L130.05,523.93 L131.55,524.01 L133.05,524.09 L134.55,524.17 L136.05,524.24 L137.55,524.31 L139.05,524.37 L140.55,524.43 L142.05,524.47 L143.55,524.50 L143.95,524.50 L144.35,524.49 L144.75,524.46 L145.15,524.41 L145.55,524.32 L145.95,524.17 L146.35,523.96 L146.75,523.69 L147.15,523.37 L147.55,523.06 L147.95,522.82 L148.35,522.74 L148.75,522.85 L149.15,523.11 L149.55,523.45 L149.95,523.79 L150.35,524.09 L150.75,524.32 L151.15,524.49 L151.55,524.61 L151.95,524.69 L152.35,524.74 L152.75,524.78 L153.15,524.80 L153.55,524.83 L153.95,524.84 L154.35,524.86 L154.75,524.88 L156.25,524.93 L157.75,524.97 L159.25,525.00 L160.75,525.03 L162.25,525.06 L163.75,525.08 L165.25,525.10 L166.75,525.11 L168.25,525.11 L169.75,525.10 L171.25,525.06 L172.75,524.98 L174.25,524.78 L174.65,524.66 L175.05,524.49 L175.45,524.18 L175.85,523.64 L176.25,522.70 L176.65,521.19 L177.05,518.96 L177.45,516.08 L177.85,512.85 L178.25,509.97 L178.65,508.43 L179.05,508.98 L179.45,511.32 L179.85,514.50 L180.25,517.63 L180.65,520.21 L181.05,522.08 L181.45,523.30 L181.85,524.02 L182.25,524.44 L182.65,524.68 L183.05,524.83 L183.45,524.93 L183.85,525.00 L184.25,525.06 L184.65,525.11 L185.05,525.15 L186.55,525.26 L188.05,525.33 L189.55,525.38 L191.05,525.41 L192.55,525.44 L194.05,525.46 L195.55,525.48 L197.05,525.49 L198.55,525.51 L200.05,525.52" stroke="#1764ab"/>
<path d="M127.05,504.19 L128.55,504.27 L130.05,504.35 L131.55,504.43 L133.05,504.50 L134.55,504.57 L136.05,504.63 L137.55,504.69 L139.05,504.74 L140.55,504.79 L142.05,504.83 L143.55,504.85 L143.95,504.84 L144.35,504.83 L144.75,504.80 L145.15,504.73 L145.55,504.63 L145.95,504.47 L146.35,504.23 L146.75,503.93 L147.15,503.58 L147.55,503.23 L147.95,502.97 L148.35,502.87 L148.75,502.99 L149.15,503.27 L149.55,503.64 L149.95,504.01 L150.35,504.34 L150.75,504.60 L151.15,504.78 L151.55,504.91 L151.95,504.99 L152.35,505.05 L152.75,505.08 L153.15,505.11 L153.55,505.13 L153.95,505.15 L154.35,505.17 L154.75,505.18 L156.25,505.23 L157.75,505.26 L159.25,505.29 L160.75,505.32 L162.25,505.34 L163.75,505.35 L165.25,505.36 L166.75,505.36 L168.25,505.35 L169.75,505.32 L171.25,505.25 L172.75,505.11 L174.25,504.80 L174.65,504.63 L175.05,504.37 L175.45,503.92 L175.85,503.12 L176.25,501.74 L176.65,499.51 L177.05,496.23 L177.45,491.98 L177.85,487.23 L178.25,483.00 L178.65,480.74 L179.05,481.53 L179.45,484.98 L179.85,489.64 L180.25,494.25 L180.65,498.04 L181.05,500.79 L181.45,502.58 L181.85,503.64 L182.25,504.25 L182.65,504.60 L183.05,504.82 L183.45,504.96 L183.85,505.07 L184.25,505.16 L184.65,505.23 L185.05,505.28 L186.55,505.44 L188.05,505.53 L189.55,505.59 L191.05,505.63 L192.55,505.66 L194.05,505.69 L195.55,505.71 L197.05,505.73 L198.55,505.75 L200.05,505.76" stroke="#0d57a1"/>
<path d="M127.05,484.64 L128.55,484.71 L130.05,484.78 L131.55,484.84 L133.05,484.91 L134.55,484.96 L136.05,485.02 L137.55,485.07 L139.05,485.11 L140.55,485.15 L142.05,485.17 L143.55,485.17 L143.95,485.16 L144.35,485.13 L144.75,485.08 L145.15,484.99 L145.55,484.84 L145.95,484.61 L146.35,484.29 L146.75,483.87 L147.15,483.38 L147.55,482.91 L147.95,482.54 L148.35,482.41 L148.75,482.56 L149.15,482.94 L149.55,483.44 L149.95,483.94 L150.35,484.38 L150.75,484.73 L151.15,484.98 L151.55,485.14 L151.95,485.25 L152.35,485.32 L152.75,485.37 L153.15,485.40 L153.55,485.42 L153.95,485.44 L154.35,485.46 L154.75,485.47 L156.25,485.52 L157.75,485.55 L159.25,485.58 L160.75,485.60 L162.25,485.61 L163.75,485.62 L165.25,485.62 L166.75,485.62 L168.25,485.59 L169.75,485.54 L171.25,485.45 L172.75,485.27 L174.25,484.86 L174.65,484.64 L175.05,484.30 L175.45,483.72 L175.85,482.70 L176.25,480.93 L176.65,478.07 L177.05,473.88 L177.45,468.44 L177.85,462.35 L178.25,456.93 L178.65,454.04 L179.05,455.05 L179.45,459.46 L179.85,465.43 L180.25,471.32 L180.65,476.18 L181.05,479.70 L181.45,481.98 L181.85,483.34 L182.25,484.12 L182.65,484.57 L183.05,484.84 L183.45,485.03 L183.85,485.16 L184.25,485.27 L184.65,485.36 L185.05,485.43 L186.55,485.62 L188.05,485.73 L189.55,485.80 L191.05,485.86 L192.55,485.89 L194.05,485.92 L195.55,485.95 L197.05,485.97 L198.55,485.98 L200.05,486.00" stroke="#08468a"/>
<path d="M127.05,465.08 L128.55,465.15 L130.05,465.21 L131.55,465.26 L133.05,465.31 L134.55,465.36 L136.05,465.41 L137.55,465.45 L139.05,465.49 L140.55,465.52 L142.05,465.53 L143.55,465.53 L143.95,465.51 L144.35,465.48 L144.75,465.43 L145.15,465.34 L145.55,465.19 L145.95,464.96 L146.35,464.63 L146.75,464.21 L147.15,463.72 L147.55,463.24 L147.95,462.88 L148.35,462.74 L148.75,462.89 L149.15,463.27 L149.55,463.77 L149.95,464.27 L150.35,464.71 L150.75,465.05 L151.15,465.30 L151.55,465.47 L151.95,465.57 L152.35,465.64 L152.75,465.68 L153.15,465.71 L153.55,465.74 L153.95,465.75 L154.35,465.77 L154.75,465.78 L156.25,465.82 L157.75,465.85 L159.25,465.87 L160.75,465.89 L162.25,465.90 L163.75,465.90 L165.25,465.89 L166.75,465.87 L168.25,465.84 L169.75,465.77 L171.25,465.65 L172.75,465.42 L174.25,464.91 L174.65,464.65 L175.05,464.23 L175.45,463.53 L175.85,462.28 L176.25,460.12 L176.65,456.63 L177.05,451.52 L177.45,444.89 L177.85,437.47 L178.25,430.86 L178.65,427.33 L179.05,428.57 L179.45,433.94 L179.85,441.22 L180.25,448.39 L180.65,454.32 L181.05,458.60 L181.45,461.38 L181.85,463.04 L182.25,463.99 L182.65,464.53 L183.05,464.86 L183.45,465.09 L183.85,465.25 L184.25,465.38 L184.65,465.49 L185.05,465.58 L186.55,465.80 L188.05,465.94 L189.55,466.02 L191.05,466.08 L192.55,466.12 L194.05,466.16 L195.55,466.18 L197.05,466.21 L198.55,466.22 L200.05,466.24" stroke="#08306b"/>
</g>
<rect x="127.05000000000001" y="357.2" width="73.5" height="269.2" fill="none" stroke="#111" stroke-width="1.4"/>
<line x1="143.15" y1="626.4" x2="143.15" y2="629.4" stroke="#222" stroke-width="1"/>
<line x1="180.05" y1="626.4" x2="180.05" y2="629.4" stroke="#222" stroke-width="1"/>
<text x="132.19" y="641.00" font-size="13.6" fill="#111" textLength="21.93" lengthAdjust="spacingAndGlyphs" stroke="#111" stroke-width="0" >2.5</text>
<text x="169.09" y="641.00" font-size="13.6" fill="#111" textLength="21.93" lengthAdjust="spacingAndGlyphs" stroke="#111" stroke-width="0" >2.3</text>
<clipPath id="cc2"><rect x="208.1" y="357.2" width="72.3" height="269.2"/></clipPath>
<g clip-path="url(#cc2)" fill="none" stroke-width="1.35" stroke-linejoin="round">
<path d="M207.50,602.05 L209.00,602.19 L210.50,602.32 L212.00,602.45 L213.50,602.57 L215.00,602.68 L216.50,602.79 L218.00,602.89 L219.50,602.99 L221.00,603.08 L222.50,603.17 L224.00,603.25 L224.40,603.28 L224.80,603.30 L225.20,603.32 L225.60,603.34 L226.00,603.36 L226.40,603.38 L226.80,603.40 L227.20,603.42 L227.60,603.44 L228.00,603.46 L228.40,603.48 L228.80,603.50 L229.20,603.52 L229.60,603.53 L230.00,603.55 L230.40,603.57 L230.80,603.59 L231.20,603.60 L231.60,603.62 L232.00,603.64 L232.40,603.65 L232.80,603.67 L233.20,603.69 L233.60,603.70 L234.00,603.72 L234.40,603.73 L234.80,603.75 L235.20,603.77 L236.70,603.82 L238.20,603.87 L239.70,603.92 L241.20,603.97 L242.70,604.02 L244.20,604.06 L245.70,604.10 L247.20,604.14 L248.70,604.17 L250.20,604.21 L251.70,604.24 L253.20,604.28 L254.70,604.31 L255.10,604.31 L255.50,604.32 L255.90,604.33 L256.30,604.34 L256.70,604.34 L257.10,604.35 L257.50,604.36 L257.90,604.37 L258.30,604.37 L258.70,604.38 L259.10,604.39 L259.50,604.39 L259.90,604.40 L260.30,604.41 L260.70,604.41 L261.10,604.42 L261.50,604.43 L261.90,604.43 L262.30,604.44 L262.70,604.44 L263.10,604.45 L263.50,604.46 L263.90,604.46 L264.30,604.47 L264.70,604.47 L265.10,604.48 L265.50,604.48 L267.00,604.50 L268.50,604.52 L270.00,604.54 L271.50,604.56 L273.00,604.57 L274.50,604.59 L276.00,604.61 L277.50,604.62 L279.00,604.63 L280.50,604.65" stroke="#4a98c9"/>
<path d="M207.50,582.50 L209.00,582.63 L210.50,582.75 L212.00,582.87 L213.50,582.98 L215.00,583.08 L216.50,583.18 L218.00,583.28 L219.50,583.37 L221.00,583.45 L222.50,583.53 L224.00,583.61 L224.40,583.63 L224.80,583.65 L225.20,583.67 L225.60,583.69 L226.00,583.71 L226.40,583.73 L226.80,583.75 L227.20,583.76 L227.60,583.78 L228.00,583.80 L228.40,583.82 L228.80,583.83 L229.20,583.85 L229.60,583.87 L230.00,583.88 L230.40,583.90 L230.80,583.92 L231.20,583.93 L231.60,583.95 L232.00,583.96 L232.40,583.98 L232.80,584.00 L233.20,584.01 L233.60,584.02 L234.00,584.04 L234.40,584.05 L234.80,584.07 L235.20,584.08 L236.70,584.13 L238.20,584.18 L239.70,584.23 L241.20,584.27 L242.70,584.31 L244.20,584.35 L245.70,584.39 L247.20,584.42 L248.70,584.45 L250.20,584.48 L251.70,584.51 L253.20,584.53 L254.70,584.53 L255.10,584.53 L255.50,584.52 L255.90,584.50 L256.30,584.46 L256.70,584.38 L257.10,584.26 L257.50,584.07 L257.90,583.82 L258.30,583.54 L258.70,583.29 L259.10,583.16 L259.50,583.22 L259.90,583.43 L260.30,583.71 L260.70,584.00 L261.10,584.23 L261.50,584.40 L261.90,584.51 L262.30,584.58 L262.70,584.62 L263.10,584.65 L263.50,584.67 L263.90,584.68 L264.30,584.69 L264.70,584.70 L265.10,584.71 L265.50,584.72 L267.00,584.75 L268.50,584.77 L270.00,584.79 L271.50,584.81 L273.00,584.83 L274.50,584.84 L276.00,584.86 L277.50,584.87 L279.00,584.88 L280.50,584.89" stroke="#3b8bc2"/>
<path d="M207.50,562.95 L209.00,563.06 L210.50,563.18 L212.00,563.28 L213.50,563.38 L215.00,563.48 L216.50,563.57 L218.00,563.65 L219.50,563.73 L221.00,563.81 L222.50,563.87 L224.00,563.93 L224.40,563.94 L224.80,563.95 L225.20,563.94 L225.60,563.93 L226.00,563.89 L226.40,563.83 L226.80,563.73 L227.20,563.61 L227.60,563.46 L228.00,563.31 L228.40,563.20 L228.80,563.17 L229.20,563.23 L229.60,563.37 L230.00,563.55 L230.40,563.73 L230.80,563.89 L231.20,564.02 L231.60,564.11 L232.00,564.18 L232.40,564.23 L232.80,564.26 L233.20,564.29 L233.60,564.31 L234.00,564.33 L234.40,564.34 L234.80,564.36 L235.20,564.37 L236.70,564.43 L238.20,564.47 L239.70,564.52 L241.20,564.56 L242.70,564.60 L244.20,564.63 L245.70,564.66 L247.20,564.69 L248.70,564.72 L250.20,564.73 L251.70,564.75 L253.20,564.74 L254.70,564.70 L255.10,564.67 L255.50,564.63 L255.90,564.54 L256.30,564.39 L256.70,564.12 L257.10,563.67 L257.50,563.03 L257.90,562.18 L258.30,561.24 L258.70,560.39 L259.10,559.95 L259.50,560.11 L259.90,560.80 L260.30,561.74 L260.70,562.67 L261.10,563.43 L261.50,563.99 L261.90,564.35 L262.30,564.56 L262.70,564.69 L263.10,564.76 L263.50,564.81 L263.90,564.85 L264.30,564.87 L264.70,564.89 L265.10,564.91 L265.50,564.93 L267.00,564.97 L268.50,565.00 L270.00,565.03 L271.50,565.05 L273.00,565.07 L274.50,565.08 L276.00,565.10 L277.50,565.11 L279.00,565.13 L280.50,565.14" stroke="#2e7ebc"/>
<path d="M207.50,543.40 L209.00,543.50 L210.50,543.60 L212.00,543.70 L213.50,543.79 L215.00,543.88 L216.50,543.96 L218.00,544.03 L219.50,544.11 L221.00,544.17 L222.50,544.23 L224.00,544.28 L224.40,544.29 L224.80,544.29 L225.20,544.28 L225.60,544.25 L226.00,544.21 L226.40,544.12 L226.80,544.01 L227.20,543.85 L227.60,543.67 L228.00,543.49 L228.40,543.35 L228.80,543.31 L229.20,543.38 L229.60,543.54 L230.00,543.75 L230.40,543.96 L230.80,544.15 L231.20,544.30 L231.60,544.40 L232.00,544.48 L232.40,544.53 L232.80,544.57 L233.20,544.60 L233.60,544.62 L234.00,544.64 L234.40,544.66 L234.80,544.67 L235.20,544.69 L236.70,544.73 L238.20,544.78 L239.70,544.82 L241.20,544.85 L242.70,544.89 L244.20,544.92 L245.70,544.94 L247.20,544.97 L248.70,544.98 L250.20,544.99 L251.70,544.99 L253.20,544.97 L254.70,544.88 L255.10,544.83 L255.50,544.75 L255.90,544.61 L256.30,544.36 L256.70,543.92 L257.10,543.21 L257.50,542.17 L257.90,540.82 L258.30,539.30 L258.70,537.95 L259.10,537.23 L259.50,537.49 L259.90,538.59 L260.30,540.09 L260.70,541.57 L261.10,542.79 L261.50,543.67 L261.90,544.24 L262.30,544.59 L262.70,544.79 L263.10,544.90 L263.50,544.97 L263.90,545.02 L264.30,545.06 L264.70,545.09 L265.10,545.12 L265.50,545.14 L267.00,545.20 L268.50,545.24 L270.00,545.27 L271.50,545.29 L273.00,545.31 L274.50,545.33 L276.00,545.35 L277.50,545.36 L279.00,545.37 L280.50,545.38" stroke="#2070b4"/>
<path d="M207.50,523.84 L209.00,523.94 L210.50,524.03 L212.00,524.11 L213.50,524.20 L215.00,524.27 L216.50,524.34 L218.00,524.41 L219.50,524.47 L221.00,524.53 L222.50,524.58 L224.00,524.60 L224.40,524.60 L224.80,524.59 L225.20,524.57 L225.60,524.51 L226.00,524.42 L226.40,524.27 L226.80,524.06 L227.20,523.79 L227.60,523.48 L228.00,523.16 L228.40,522.93 L228.80,522.84 L229.20,522.95 L229.60,523.21 L230.00,523.55 L230.40,523.89 L230.80,524.19 L231.20,524.43 L231.60,524.60 L232.00,524.72 L232.40,524.80 L232.80,524.85 L233.20,524.88 L233.60,524.91 L234.00,524.93 L234.40,524.95 L234.80,524.97 L235.20,524.98 L236.70,525.03 L238.20,525.07 L239.70,525.11 L241.20,525.14 L242.70,525.17 L244.20,525.20 L245.70,525.22 L247.20,525.23 L248.70,525.24 L250.20,525.24 L251.70,525.22 L253.20,525.17 L254.70,525.03 L255.10,524.96 L255.50,524.83 L255.90,524.62 L256.30,524.24 L256.70,523.58 L257.10,522.51 L257.50,520.94 L257.90,518.90 L258.30,516.63 L258.70,514.60 L259.10,513.51 L259.50,513.90 L259.90,515.56 L260.30,517.80 L260.70,520.01 L261.10,521.83 L261.50,523.16 L261.90,524.01 L262.30,524.53 L262.70,524.82 L263.10,524.99 L263.50,525.10 L263.90,525.17 L264.30,525.23 L264.70,525.27 L265.10,525.31 L265.50,525.34 L267.00,525.42 L268.50,525.47 L270.00,525.50 L271.50,525.53 L273.00,525.55 L274.50,525.57 L276.00,525.59 L277.50,525.60 L279.00,525.62 L280.50,525.63" stroke="#1764ab"/>
<path d="M207.50,504.29 L209.00,504.38 L210.50,504.46 L212.00,504.53 L213.50,504.60 L215.00,504.67 L216.50,504.74 L218.00,504.80 L219.50,504.85 L221.00,504.90 L222.50,504.94 L224.00,504.96 L224.40,504.96 L224.80,504.94 L225.20,504.92 L225.60,504.86 L226.00,504.77 L226.40,504.62 L226.80,504.41 L227.20,504.13 L227.60,503.82 L228.00,503.50 L228.40,503.26 L228.80,503.18 L229.20,503.28 L229.60,503.55 L230.00,503.88 L230.40,504.22 L230.80,504.52 L231.20,504.75 L231.60,504.92 L232.00,505.04 L232.40,505.12 L232.80,505.17 L233.20,505.20 L233.60,505.23 L234.00,505.25 L234.40,505.26 L234.80,505.28 L235.20,505.29 L236.70,505.34 L238.20,505.38 L239.70,505.41 L241.20,505.43 L242.70,505.46 L244.20,505.48 L245.70,505.49 L247.20,505.50 L248.70,505.50 L250.20,505.48 L251.70,505.45 L253.20,505.36 L254.70,505.15 L255.10,505.04 L255.50,504.86 L255.90,504.56 L256.30,504.02 L256.70,503.08 L257.10,501.56 L257.50,499.34 L257.90,496.45 L258.30,493.22 L258.70,490.34 L259.10,488.80 L259.50,489.35 L259.90,491.69 L260.30,494.87 L260.70,498.00 L261.10,500.58 L261.50,502.45 L261.90,503.66 L262.30,504.39 L262.70,504.81 L263.10,505.04 L263.50,505.19 L263.90,505.29 L264.30,505.37 L264.70,505.43 L265.10,505.48 L265.50,505.52 L267.00,505.62 L268.50,505.69 L270.00,505.73 L271.50,505.77 L273.00,505.79 L274.50,505.81 L276.00,505.83 L277.50,505.85 L279.00,505.86 L280.50,505.87" stroke="#0d57a1"/>
<path d="M207.50,484.74 L209.00,484.81 L210.50,484.88 L212.00,484.95 L213.50,485.01 L215.00,485.07 L216.50,485.12 L218.00,485.17 L219.50,485.22 L221.00,485.25 L222.50,485.28 L224.00,485.28 L224.40,485.27 L224.80,485.24 L225.20,485.19 L225.60,485.10 L226.00,484.95 L226.40,484.72 L226.80,484.39 L227.20,483.97 L227.60,483.49 L228.00,483.01 L228.40,482.65 L228.80,482.51 L229.20,482.67 L229.60,483.05 L230.00,483.55 L230.40,484.05 L230.80,484.49 L231.20,484.84 L231.60,485.09 L232.00,485.25 L232.40,485.36 L232.80,485.43 L233.20,485.48 L233.60,485.51 L234.00,485.54 L234.40,485.56 L234.80,485.57 L235.20,485.59 L236.70,485.63 L238.20,485.67 L239.70,485.70 L241.20,485.72 L242.70,485.74 L244.20,485.76 L245.70,485.77 L247.20,485.77 L248.70,485.77 L250.20,485.74 L251.70,485.69 L253.20,485.58 L254.70,485.33 L255.10,485.20 L255.50,484.99 L255.90,484.63 L256.30,483.99 L256.70,482.88 L257.10,481.10 L257.50,478.48 L257.90,475.08 L258.30,471.28 L258.70,467.89 L259.10,466.09 L259.50,466.72 L259.90,469.48 L260.30,473.21 L260.70,476.89 L261.10,479.93 L261.50,482.13 L261.90,483.56 L262.30,484.41 L262.70,484.90 L263.10,485.18 L263.50,485.35 L263.90,485.47 L264.30,485.56 L264.70,485.63 L265.10,485.68 L265.50,485.73 L267.00,485.85 L268.50,485.92 L270.00,485.97 L271.50,486.01 L273.00,486.04 L274.50,486.06 L276.00,486.08 L277.50,486.09 L279.00,486.10 L280.50,486.12" stroke="#08468a"/>
<path d="M207.50,465.19 L209.00,465.25 L210.50,465.31 L212.00,465.37 L213.50,465.42 L215.00,465.47 L216.50,465.51 L218.00,465.56 L219.50,465.59 L221.00,465.62 L222.50,465.64 L224.00,465.63 L224.40,465.62 L224.80,465.59 L225.20,465.54 L225.60,465.45 L226.00,465.30 L226.40,465.07 L226.80,464.74 L227.20,464.32 L227.60,463.83 L228.00,463.35 L228.40,462.99 L228.80,462.85 L229.20,463.00 L229.60,463.39 L230.00,463.88 L230.40,464.38 L230.80,464.82 L231.20,465.16 L231.60,465.41 L232.00,465.58 L232.40,465.69 L232.80,465.75 L233.20,465.80 L233.60,465.83 L234.00,465.85 L234.40,465.87 L234.80,465.89 L235.20,465.90 L236.70,465.94 L238.20,465.98 L239.70,466.00 L241.20,466.02 L242.70,466.03 L244.20,466.04 L245.70,466.05 L247.20,466.05 L248.70,466.03 L250.20,466.00 L251.70,465.93 L253.20,465.80 L254.70,465.50 L255.10,465.34 L255.50,465.09 L255.90,464.67 L256.30,463.92 L256.70,462.62 L257.10,460.52 L257.50,457.44 L257.90,453.45 L258.30,448.98 L258.70,444.99 L259.10,442.87 L259.50,443.62 L259.90,446.86 L260.30,451.24 L260.70,455.57 L261.10,459.14 L261.50,461.72 L261.90,463.39 L262.30,464.40 L262.70,464.97 L263.10,465.30 L263.50,465.50 L263.90,465.63 L264.30,465.74 L264.70,465.82 L265.10,465.88 L265.50,465.93 L267.00,466.07 L268.50,466.16 L270.00,466.21 L271.50,466.25 L273.00,466.28 L274.50,466.30 L276.00,466.32 L277.50,466.34 L279.00,466.35 L280.50,466.36" stroke="#08306b"/>
</g>
<rect x="207.5" y="357.2" width="73.5" height="269.2" fill="none" stroke="#111" stroke-width="1.4"/>
<line x1="223.60" y1="626.4" x2="223.60" y2="629.4" stroke="#222" stroke-width="1"/>
<line x1="260.50" y1="626.4" x2="260.50" y2="629.4" stroke="#222" stroke-width="1"/>
<text x="212.64" y="641.00" font-size="13.6" fill="#111" textLength="21.93" lengthAdjust="spacingAndGlyphs" stroke="#111" stroke-width="0" >2.5</text>
<text x="249.54" y="641.00" font-size="13.6" fill="#111" textLength="21.93" lengthAdjust="spacingAndGlyphs" stroke="#111" stroke-width="0" >2.3</text>
<clipPath id="cc3"><rect x="288.55000000000007" y="357.2" width="72.3" height="269.2"/></clipPath>
<g clip-path="url(#cc3)" fill="none" stroke-width="1.35" stroke-linejoin="round">
<path d="M287.95,601.65 L289.45,601.79 L290.95,601.92 L292.45,602.05 L293.95,602.17 L295.45,602.28 L296.95,602.39 L298.45,602.49 L299.95,602.59 L301.45,602.68 L302.95,602.77 L304.45,602.85 L304.85,602.88 L305.25,602.90 L305.65,602.92 L306.05,602.94 L306.45,602.96 L306.85,602.98 L307.25,603.00 L307.65,603.02 L308.05,603.04 L308.45,603.06 L308.85,603.08 L309.25,603.10 L309.65,603.12 L310.05,603.13 L310.45,603.15 L310.85,603.17 L311.25,603.19 L311.65,603.20 L312.05,603.22 L312.45,603.24 L312.85,603.25 L313.25,603.27 L313.65,603.29 L314.05,603.30 L314.45,603.32 L314.85,603.33 L315.25,603.35 L315.65,603.37 L317.15,603.42 L318.65,603.47 L320.15,603.52 L321.65,603.57 L323.15,603.62 L324.65,603.66 L326.15,603.70 L327.65,603.74 L329.15,603.77 L330.65,603.81 L332.15,603.84 L333.65,603.88 L335.15,603.91 L335.55,603.91 L335.95,603.92 L336.35,603.93 L336.75,603.94 L337.15,603.94 L337.55,603.95 L337.95,603.96 L338.35,603.97 L338.75,603.97 L339.15,603.98 L339.55,603.99 L339.95,603.99 L340.35,604.00 L340.75,604.01 L341.15,604.01 L341.55,604.02 L341.95,604.03 L342.35,604.03 L342.75,604.04 L343.15,604.04 L343.55,604.05 L343.95,604.06 L344.35,604.06 L344.75,604.07 L345.15,604.07 L345.55,604.08 L345.95,604.08 L347.45,604.10 L348.95,604.12 L350.45,604.14 L351.95,604.16 L353.45,604.17 L354.95,604.19 L356.45,604.21 L357.95,604.22 L359.45,604.23 L360.95,604.25" stroke="#4a98c9"/>
<path d="M287.95,582.10 L289.45,582.23 L290.95,582.35 L292.45,582.46 L293.95,582.57 L295.45,582.68 L296.95,582.77 L298.45,582.87 L299.95,582.96 L301.45,583.04 L302.95,583.11 L304.45,583.17 L304.85,583.19 L305.25,583.19 L305.65,583.19 L306.05,583.18 L306.45,583.14 L306.85,583.08 L307.25,582.99 L307.65,582.86 L308.05,582.72 L308.45,582.57 L308.85,582.47 L309.25,582.43 L309.65,582.50 L310.05,582.64 L310.45,582.82 L310.85,583.00 L311.25,583.16 L311.65,583.29 L312.05,583.39 L312.45,583.45 L312.85,583.50 L313.25,583.54 L313.65,583.57 L314.05,583.59 L314.45,583.61 L314.85,583.63 L315.25,583.64 L315.65,583.66 L317.15,583.72 L318.65,583.77 L320.15,583.82 L321.65,583.86 L323.15,583.91 L324.65,583.95 L326.15,583.98 L327.65,584.02 L329.15,584.05 L330.65,584.08 L332.15,584.11 L333.65,584.13 L335.15,584.15 L335.55,584.15 L335.95,584.15 L336.35,584.13 L336.75,584.11 L337.15,584.06 L337.55,583.98 L337.95,583.85 L338.35,583.69 L338.75,583.51 L339.15,583.34 L339.55,583.26 L339.95,583.30 L340.35,583.44 L340.75,583.63 L341.15,583.82 L341.55,583.98 L341.95,584.10 L342.35,584.17 L342.75,584.22 L343.15,584.25 L343.55,584.27 L343.95,584.29 L344.35,584.30 L344.75,584.31 L345.15,584.31 L345.55,584.32 L345.95,584.33 L347.45,584.35 L348.95,584.37 L350.45,584.39 L351.95,584.41 L353.45,584.43 L354.95,584.44 L356.45,584.46 L357.95,584.47 L359.45,584.48 L360.95,584.49" stroke="#3b8bc2"/>
<path d="M287.95,562.55 L289.45,562.66 L290.95,562.77 L292.45,562.88 L293.95,562.98 L295.45,563.07 L296.95,563.16 L298.45,563.24 L299.95,563.32 L301.45,563.39 L302.95,563.45 L304.45,563.49 L304.85,563.50 L305.25,563.49 L305.65,563.47 L306.05,563.42 L306.45,563.33 L306.85,563.18 L307.25,562.98 L307.65,562.71 L308.05,562.39 L308.45,562.09 L308.85,561.85 L309.25,561.77 L309.65,561.88 L310.05,562.15 L310.45,562.49 L310.85,562.83 L311.25,563.13 L311.65,563.37 L312.05,563.55 L312.45,563.67 L312.85,563.75 L313.25,563.80 L313.65,563.84 L314.05,563.87 L314.45,563.90 L314.85,563.92 L315.25,563.94 L315.65,563.96 L317.15,564.02 L318.65,564.07 L320.15,564.11 L321.65,564.15 L323.15,564.19 L324.65,564.23 L326.15,564.26 L327.65,564.29 L329.15,564.32 L330.65,564.34 L332.15,564.36 L333.65,564.36 L335.15,564.33 L335.55,564.31 L335.95,564.27 L336.35,564.21 L336.75,564.08 L337.15,563.87 L337.55,563.52 L337.95,563.00 L338.35,562.32 L338.75,561.57 L339.15,560.90 L339.55,560.54 L339.95,560.67 L340.35,561.23 L340.75,561.98 L341.15,562.72 L341.55,563.33 L341.95,563.78 L342.35,564.07 L342.75,564.24 L343.15,564.35 L343.55,564.41 L343.95,564.45 L344.35,564.47 L344.75,564.50 L345.15,564.51 L345.55,564.53 L345.95,564.54 L347.45,564.58 L348.95,564.61 L350.45,564.63 L351.95,564.65 L353.45,564.67 L354.95,564.69 L356.45,564.70 L357.95,564.72 L359.45,564.73 L360.95,564.74" stroke="#2e7ebc"/>
<path d="M287.95,542.99 L289.45,543.10 L290.95,543.20 L292.45,543.29 L293.95,543.38 L295.45,543.47 L296.95,543.55 L298.45,543.62 L299.95,543.69 L301.45,543.75 L302.95,543.79 L304.45,543.81 L304.85,543.81 L305.25,543.79 L305.65,543.74 L306.05,543.66 L306.45,543.51 L306.85,543.29 L307.25,542.97 L307.65,542.55 L308.05,542.07 L308.45,541.60 L308.85,541.24 L309.25,541.11 L309.65,541.27 L310.05,541.66 L310.45,542.16 L310.85,542.66 L311.25,543.11 L311.65,543.46 L312.05,543.71 L312.45,543.88 L312.85,544.00 L313.25,544.07 L313.65,544.12 L314.05,544.16 L314.45,544.19 L314.85,544.21 L315.25,544.23 L315.65,544.25 L317.15,544.31 L318.65,544.36 L320.15,544.41 L321.65,544.45 L323.15,544.48 L324.65,544.52 L326.15,544.55 L327.65,544.57 L329.15,544.59 L330.65,544.61 L332.15,544.62 L333.65,544.61 L335.15,544.56 L335.55,544.53 L335.95,544.47 L336.35,544.38 L336.75,544.21 L337.15,543.91 L337.55,543.42 L337.95,542.71 L338.35,541.78 L338.75,540.74 L339.15,539.81 L339.55,539.32 L339.95,539.50 L340.35,540.26 L340.75,541.29 L341.15,542.31 L341.55,543.14 L341.95,543.75 L342.35,544.15 L342.75,544.39 L343.15,544.53 L343.55,544.61 L343.95,544.66 L344.35,544.69 L344.75,544.72 L345.15,544.74 L345.55,544.76 L345.95,544.78 L347.45,544.83 L348.95,544.86 L350.45,544.88 L351.95,544.90 L353.45,544.92 L354.95,544.94 L356.45,544.95 L357.95,544.96 L359.45,544.98 L360.95,544.99" stroke="#2070b4"/>
<path d="M287.95,523.44 L289.45,523.54 L290.95,523.63 L292.45,523.71 L293.95,523.79 L295.45,523.87 L296.95,523.94 L298.45,524.00 L299.95,524.06 L301.45,524.11 L302.95,524.15 L304.45,524.15 L304.85,524.14 L305.25,524.11 L305.65,524.05 L306.05,523.95 L306.45,523.78 L306.85,523.51 L307.25,523.13 L307.65,522.64 L308.05,522.08 L308.45,521.53 L308.85,521.10 L309.25,520.95 L309.65,521.13 L310.05,521.58 L310.45,522.16 L310.85,522.75 L311.25,523.26 L311.65,523.67 L312.05,523.96 L312.45,524.16 L312.85,524.28 L313.25,524.37 L313.65,524.42 L314.05,524.46 L314.45,524.49 L314.85,524.52 L315.25,524.54 L315.65,524.56 L317.15,524.62 L318.65,524.67 L320.15,524.71 L321.65,524.75 L323.15,524.78 L324.65,524.81 L326.15,524.83 L327.65,524.86 L329.15,524.87 L330.65,524.88 L332.15,524.89 L333.65,524.87 L335.15,524.80 L335.55,524.76 L335.95,524.70 L336.35,524.59 L336.75,524.38 L337.15,524.03 L337.55,523.45 L337.95,522.60 L338.35,521.50 L338.75,520.27 L339.15,519.17 L339.55,518.59 L339.95,518.80 L340.35,519.70 L340.75,520.92 L341.15,522.12 L341.55,523.11 L341.95,523.83 L342.35,524.29 L342.75,524.57 L343.15,524.74 L343.55,524.83 L343.95,524.89 L344.35,524.93 L344.75,524.96 L345.15,524.99 L345.55,525.01 L345.95,525.03 L347.45,525.08 L348.95,525.11 L350.45,525.14 L351.95,525.16 L353.45,525.17 L354.95,525.19 L356.45,525.20 L357.95,525.21 L359.45,525.23 L360.95,525.24" stroke="#1764ab"/>
<path d="M287.95,503.89 L289.45,503.97 L290.95,504.05 L292.45,504.13 L293.95,504.20 L295.45,504.26 L296.95,504.32 L298.45,504.38 L299.95,504.42 L301.45,504.46 L302.95,504.48 L304.45,504.46 L304.85,504.43 L305.25,504.38 L305.65,504.29 L306.05,504.14 L306.45,503.88 L306.85,503.49 L307.25,502.94 L307.65,502.24 L308.05,501.43 L308.45,500.63 L308.85,500.01 L309.25,499.78 L309.65,500.04 L310.05,500.67 L310.45,501.50 L310.85,502.33 L311.25,503.06 L311.65,503.63 L312.05,504.04 L312.45,504.32 L312.85,504.49 L313.25,504.61 L313.65,504.68 L314.05,504.73 L314.45,504.77 L314.85,504.80 L315.25,504.82 L315.65,504.84 L317.15,504.91 L318.65,504.96 L320.15,505.00 L321.65,505.04 L323.15,505.07 L324.65,505.09 L326.15,505.12 L327.65,505.13 L329.15,505.15 L330.65,505.15 L332.15,505.15 L333.65,505.12 L335.15,505.03 L335.55,504.98 L335.95,504.90 L336.35,504.76 L336.75,504.51 L337.15,504.07 L337.55,503.36 L337.95,502.31 L338.35,500.96 L338.75,499.44 L339.15,498.09 L339.55,497.37 L339.95,497.62 L340.35,498.73 L340.75,500.22 L341.15,501.70 L341.55,502.92 L341.95,503.80 L342.35,504.37 L342.75,504.72 L343.15,504.91 L343.55,505.03 L343.95,505.10 L344.35,505.15 L344.75,505.19 L345.15,505.22 L345.55,505.24 L345.95,505.26 L347.45,505.32 L348.95,505.36 L350.45,505.38 L351.95,505.41 L353.45,505.42 L354.95,505.44 L356.45,505.45 L357.95,505.46 L359.45,505.47 L360.95,505.48" stroke="#0d57a1"/>
<path d="M287.95,484.34 L289.45,484.41 L290.95,484.48 L292.45,484.54 L293.95,484.61 L295.45,484.66 L296.95,484.71 L298.45,484.76 L299.95,484.80 L301.45,484.83 L302.95,484.84 L304.45,484.81 L304.85,484.78 L305.25,484.73 L305.65,484.64 L306.05,484.48 L306.45,484.23 L306.85,483.84 L307.25,483.29 L307.65,482.58 L308.05,481.77 L308.45,480.97 L308.85,480.35 L309.25,480.12 L309.65,480.37 L310.05,481.01 L310.45,481.83 L310.85,482.66 L311.25,483.39 L311.65,483.96 L312.05,484.37 L312.45,484.64 L312.85,484.82 L313.25,484.93 L313.65,485.00 L314.05,485.05 L314.45,485.08 L314.85,485.11 L315.25,485.14 L315.65,485.16 L317.15,485.22 L318.65,485.27 L320.15,485.30 L321.65,485.33 L323.15,485.36 L324.65,485.38 L326.15,485.40 L327.65,485.41 L329.15,485.42 L330.65,485.42 L332.15,485.40 L333.65,485.35 L335.15,485.23 L335.55,485.16 L335.95,485.05 L336.35,484.87 L336.75,484.53 L337.15,483.95 L337.55,483.02 L337.95,481.65 L338.35,479.86 L338.75,477.87 L339.15,476.09 L339.55,475.15 L339.95,475.48 L340.35,476.93 L340.75,478.89 L341.15,480.83 L341.55,482.42 L341.95,483.58 L342.35,484.33 L342.75,484.78 L343.15,485.04 L343.55,485.19 L343.95,485.28 L344.35,485.34 L344.75,485.39 L345.15,485.43 L345.55,485.46 L345.95,485.48 L347.45,485.55 L348.95,485.60 L350.45,485.63 L351.95,485.65 L353.45,485.67 L354.95,485.69 L356.45,485.70 L357.95,485.71 L359.45,485.72 L360.95,485.73" stroke="#08468a"/>
<path d="M287.95,464.79 L289.45,464.85 L290.95,464.91 L292.45,464.96 L293.95,465.01 L295.45,465.06 L296.95,465.10 L298.45,465.14 L299.95,465.17 L301.45,465.19 L302.95,465.19 L304.45,465.15 L304.85,465.12 L305.25,465.06 L305.65,464.95 L306.05,464.78 L306.45,464.50 L306.85,464.06 L307.25,463.45 L307.65,462.67 L308.05,461.78 L308.45,460.90 L308.85,460.22 L309.25,459.96 L309.65,460.23 L310.05,460.93 L310.45,461.83 L310.85,462.74 L311.25,463.54 L311.65,464.16 L312.05,464.61 L312.45,464.91 L312.85,465.11 L313.25,465.22 L313.65,465.30 L314.05,465.35 L314.45,465.39 L314.85,465.42 L315.25,465.44 L315.65,465.47 L317.15,465.53 L318.65,465.57 L320.15,465.60 L321.65,465.63 L323.15,465.65 L324.65,465.67 L326.15,465.69 L327.65,465.70 L329.15,465.70 L330.65,465.70 L332.15,465.67 L333.65,465.62 L335.15,465.49 L335.55,465.42 L335.95,465.30 L336.35,465.11 L336.75,464.76 L337.15,464.15 L337.55,463.17 L337.95,461.73 L338.35,459.86 L338.75,457.77 L339.15,455.91 L339.55,454.92 L339.95,455.27 L340.35,456.79 L340.75,458.84 L341.15,460.87 L341.55,462.54 L341.95,463.75 L342.35,464.54 L342.75,465.01 L343.15,465.28 L343.55,465.43 L343.95,465.53 L344.35,465.59 L344.75,465.64 L345.15,465.68 L345.55,465.71 L345.95,465.74 L347.45,465.81 L348.95,465.85 L350.45,465.88 L351.95,465.91 L353.45,465.92 L354.95,465.94 L356.45,465.95 L357.95,465.96 L359.45,465.97 L360.95,465.98" stroke="#08306b"/>
</g>
<rect x="287.95000000000005" y="357.2" width="73.5" height="269.2" fill="none" stroke="#111" stroke-width="1.4"/>
<line x1="304.05" y1="626.4" x2="304.05" y2="629.4" stroke="#222" stroke-width="1"/>
<line x1="340.95" y1="626.4" x2="340.95" y2="629.4" stroke="#222" stroke-width="1"/>
<text x="293.09" y="641.00" font-size="13.6" fill="#111" textLength="21.93" lengthAdjust="spacingAndGlyphs" stroke="#111" stroke-width="0" >2.5</text>
<text x="329.99" y="641.00" font-size="13.6" fill="#111" textLength="21.93" lengthAdjust="spacingAndGlyphs" stroke="#111" stroke-width="0" >2.3</text>
<clipPath id="cc4"><rect x="369.00000000000006" y="357.2" width="72.3" height="269.2"/></clipPath>
<g clip-path="url(#cc4)" fill="none" stroke-width="1.35" stroke-linejoin="round">
<path d="M368.40,600.35 L369.90,600.49 L371.40,600.62 L372.90,600.75 L374.40,600.87 L375.90,600.98 L377.40,601.09 L378.90,601.19 L380.40,601.29 L381.90,601.38 L383.40,601.47 L384.90,601.55 L385.30,601.58 L385.70,601.60 L386.10,601.62 L386.50,601.64 L386.90,601.66 L387.30,601.68 L387.70,601.70 L388.10,601.72 L388.50,601.74 L388.90,601.76 L389.30,601.78 L389.70,601.80 L390.10,601.82 L390.50,601.83 L390.90,601.85 L391.30,601.87 L391.70,601.89 L392.10,601.90 L392.50,601.92 L392.90,601.94 L393.30,601.95 L393.70,601.97 L394.10,601.99 L394.50,602.00 L394.90,602.02 L395.30,602.03 L395.70,602.05 L396.10,602.07 L397.60,602.12 L399.10,602.17 L400.60,602.22 L402.10,602.27 L403.60,602.32 L405.10,602.36 L406.60,602.40 L408.10,602.44 L409.60,602.47 L411.10,602.51 L412.60,602.54 L414.10,602.58 L415.60,602.61 L416.00,602.61 L416.40,602.62 L416.80,602.63 L417.20,602.64 L417.60,602.64 L418.00,602.65 L418.40,602.66 L418.80,602.67 L419.20,602.67 L419.60,602.68 L420.00,602.69 L420.40,602.69 L420.80,602.70 L421.20,602.71 L421.60,602.71 L422.00,602.72 L422.40,602.73 L422.80,602.73 L423.20,602.74 L423.60,602.74 L424.00,602.75 L424.40,602.76 L424.80,602.76 L425.20,602.77 L425.60,602.77 L426.00,602.78 L426.40,602.78 L427.90,602.80 L429.40,602.82 L430.90,602.84 L432.40,602.86 L433.90,602.87 L435.40,602.89 L436.90,602.91 L438.40,602.92 L439.90,602.93 L441.40,602.95" stroke="#4a98c9"/>
<path d="M368.40,580.80 L369.90,580.93 L371.40,581.05 L372.90,581.16 L374.40,581.27 L375.90,581.38 L377.40,581.48 L378.90,581.57 L380.40,581.66 L381.90,581.74 L383.40,581.82 L384.90,581.89 L385.30,581.91 L385.70,581.92 L386.10,581.93 L386.50,581.93 L386.90,581.93 L387.30,581.91 L387.70,581.87 L388.10,581.81 L388.50,581.75 L388.90,581.69 L389.30,581.64 L389.70,581.64 L390.10,581.68 L390.50,581.76 L390.90,581.85 L391.30,581.95 L391.70,582.04 L392.10,582.11 L392.50,582.17 L392.90,582.21 L393.30,582.24 L393.70,582.27 L394.10,582.29 L394.50,582.31 L394.90,582.33 L395.30,582.34 L395.70,582.36 L396.10,582.37 L397.60,582.43 L399.10,582.48 L400.60,582.53 L402.10,582.57 L403.60,582.61 L405.10,582.65 L406.60,582.69 L408.10,582.73 L409.60,582.76 L411.10,582.79 L412.60,582.82 L414.10,582.85 L415.60,582.88 L416.00,582.89 L416.40,582.90 L416.80,582.90 L417.20,582.91 L417.60,582.92 L418.00,582.92 L418.40,582.93 L418.80,582.94 L419.20,582.94 L419.60,582.95 L420.00,582.96 L420.40,582.96 L420.80,582.97 L421.20,582.97 L421.60,582.98 L422.00,582.99 L422.40,582.99 L422.80,583.00 L423.20,583.00 L423.60,583.01 L424.00,583.01 L424.40,583.02 L424.80,583.03 L425.20,583.03 L425.60,583.04 L426.00,583.04 L426.40,583.05 L427.90,583.06 L429.40,583.08 L430.90,583.10 L432.40,583.12 L433.90,583.13 L435.40,583.14 L436.90,583.16 L438.40,583.17 L439.90,583.18 L441.40,583.20" stroke="#3b8bc2"/>
<path d="M368.40,561.25 L369.90,561.36 L371.40,561.47 L372.90,561.58 L374.40,561.68 L375.90,561.77 L377.40,561.86 L378.90,561.95 L380.40,562.02 L381.90,562.09 L383.40,562.15 L384.90,562.20 L385.30,562.20 L385.70,562.19 L386.10,562.17 L386.50,562.12 L386.90,562.03 L387.30,561.89 L387.70,561.68 L388.10,561.41 L388.50,561.10 L388.90,560.79 L389.30,560.55 L389.70,560.47 L390.10,560.58 L390.50,560.85 L390.90,561.19 L391.30,561.53 L391.70,561.84 L392.10,562.08 L392.50,562.25 L392.90,562.37 L393.30,562.45 L393.70,562.51 L394.10,562.55 L394.50,562.57 L394.90,562.60 L395.30,562.62 L395.70,562.64 L396.10,562.66 L397.60,562.72 L399.10,562.77 L400.60,562.82 L402.10,562.86 L403.60,562.90 L405.10,562.94 L406.60,562.97 L408.10,563.00 L409.60,563.03 L411.10,563.06 L412.60,563.08 L414.10,563.10 L415.60,563.11 L416.00,563.11 L416.40,563.10 L416.80,563.07 L417.20,563.03 L417.60,562.96 L418.00,562.83 L418.40,562.64 L418.80,562.39 L419.20,562.11 L419.60,561.86 L420.00,561.73 L420.40,561.78 L420.80,562.00 L421.20,562.28 L421.60,562.56 L422.00,562.80 L422.40,562.97 L422.80,563.08 L423.20,563.15 L423.60,563.19 L424.00,563.21 L424.40,563.23 L424.80,563.25 L425.20,563.26 L425.60,563.27 L426.00,563.28 L426.40,563.28 L427.90,563.31 L429.40,563.33 L430.90,563.35 L432.40,563.36 L433.90,563.38 L435.40,563.39 L436.90,563.41 L438.40,563.42 L439.90,563.43 L441.40,563.44" stroke="#2e7ebc"/>
<path d="M368.40,541.69 L369.90,541.80 L371.40,541.90 L372.90,541.99 L374.40,542.08 L375.90,542.17 L377.40,542.25 L378.90,542.32 L380.40,542.39 L381.90,542.45 L383.40,542.50 L384.90,542.52 L385.30,542.51 L385.70,542.49 L386.10,542.44 L386.50,542.36 L386.90,542.21 L387.30,541.99 L387.70,541.67 L388.10,541.25 L388.50,540.77 L388.90,540.30 L389.30,539.94 L389.70,539.81 L390.10,539.97 L390.50,540.36 L390.90,540.86 L391.30,541.37 L391.70,541.81 L392.10,542.16 L392.50,542.41 L392.90,542.59 L393.30,542.70 L393.70,542.77 L394.10,542.82 L394.50,542.86 L394.90,542.89 L395.30,542.91 L395.70,542.94 L396.10,542.95 L397.60,543.02 L399.10,543.07 L400.60,543.11 L402.10,543.15 L403.60,543.19 L405.10,543.23 L406.60,543.26 L408.10,543.29 L409.60,543.31 L411.10,543.34 L412.60,543.35 L414.10,543.36 L415.60,543.35 L416.00,543.34 L416.40,543.32 L416.80,543.28 L417.20,543.21 L417.60,543.07 L418.00,542.86 L418.40,542.53 L418.80,542.11 L419.20,541.64 L419.60,541.23 L420.00,541.00 L420.40,541.09 L420.80,541.44 L421.20,541.91 L421.60,542.37 L422.00,542.76 L422.40,543.04 L422.80,543.22 L423.20,543.33 L423.60,543.40 L424.00,543.44 L424.40,543.46 L424.80,543.48 L425.20,543.50 L425.60,543.51 L426.00,543.52 L426.40,543.53 L427.90,543.56 L429.40,543.58 L430.90,543.60 L432.40,543.62 L433.90,543.63 L435.40,543.65 L436.90,543.66 L438.40,543.67 L439.90,543.68 L441.40,543.69" stroke="#2070b4"/>
<path d="M368.40,522.14 L369.90,522.23 L371.40,522.32 L372.90,522.41 L374.40,522.49 L375.90,522.56 L377.40,522.63 L378.90,522.70 L380.40,522.75 L381.90,522.80 L383.40,522.83 L384.90,522.82 L385.30,522.80 L385.70,522.76 L386.10,522.68 L386.50,522.54 L386.90,522.32 L387.30,521.97 L387.70,521.48 L388.10,520.85 L388.50,520.12 L388.90,519.40 L389.30,518.85 L389.70,518.65 L390.10,518.88 L390.50,519.45 L390.90,520.20 L391.30,520.95 L391.70,521.61 L392.10,522.12 L392.50,522.50 L392.90,522.75 L393.30,522.91 L393.70,523.01 L394.10,523.08 L394.50,523.13 L394.90,523.16 L395.30,523.19 L395.70,523.22 L396.10,523.24 L397.60,523.31 L399.10,523.36 L400.60,523.41 L402.10,523.45 L403.60,523.48 L405.10,523.51 L406.60,523.54 L408.10,523.57 L409.60,523.59 L411.10,523.61 L412.60,523.62 L414.10,523.62 L415.60,523.60 L416.00,523.58 L416.40,523.55 L416.80,523.49 L417.20,523.38 L417.60,523.19 L418.00,522.88 L418.40,522.43 L418.80,521.84 L419.20,521.18 L419.60,520.59 L420.00,520.28 L420.40,520.39 L420.80,520.88 L421.20,521.54 L421.60,522.18 L422.00,522.72 L422.40,523.11 L422.80,523.36 L423.20,523.52 L423.60,523.60 L424.00,523.66 L424.40,523.69 L424.80,523.72 L425.20,523.73 L425.60,523.75 L426.00,523.76 L426.40,523.77 L427.90,523.81 L429.40,523.83 L430.90,523.85 L432.40,523.87 L433.90,523.88 L435.40,523.90 L436.90,523.91 L438.40,523.92 L439.90,523.93 L441.40,523.94" stroke="#1764ab"/>
<path d="M368.40,502.59 L369.90,502.67 L371.40,502.75 L372.90,502.82 L374.40,502.89 L375.90,502.96 L377.40,503.02 L378.90,503.07 L380.40,503.11 L381.90,503.15 L383.40,503.16 L384.90,503.12 L385.30,503.09 L385.70,503.02 L386.10,502.91 L386.50,502.73 L386.90,502.42 L387.30,501.95 L387.70,501.29 L388.10,500.44 L388.50,499.47 L388.90,498.50 L389.30,497.76 L389.70,497.49 L390.10,497.79 L390.50,498.55 L390.90,499.54 L391.30,500.53 L391.70,501.40 L392.10,502.09 L392.50,502.58 L392.90,502.91 L393.30,503.12 L393.70,503.25 L394.10,503.34 L394.50,503.40 L394.90,503.44 L395.30,503.47 L395.70,503.50 L396.10,503.53 L397.60,503.60 L399.10,503.66 L400.60,503.70 L402.10,503.74 L403.60,503.77 L405.10,503.80 L406.60,503.83 L408.10,503.85 L409.60,503.87 L411.10,503.88 L412.60,503.89 L414.10,503.88 L415.60,503.84 L416.00,503.81 L416.40,503.77 L416.80,503.69 L417.20,503.55 L417.60,503.31 L418.00,502.91 L418.40,502.32 L418.80,501.56 L419.20,500.71 L419.60,499.95 L420.00,499.55 L420.40,499.70 L420.80,500.32 L421.20,501.16 L421.60,502.00 L422.00,502.68 L422.40,503.18 L422.80,503.50 L423.20,503.70 L423.60,503.81 L424.00,503.88 L424.40,503.92 L424.80,503.95 L425.20,503.97 L425.60,503.99 L426.00,504.01 L426.40,504.02 L427.90,504.06 L429.40,504.08 L430.90,504.10 L432.40,504.12 L433.90,504.14 L435.40,504.15 L436.90,504.16 L438.40,504.17 L439.90,504.18 L441.40,504.19" stroke="#0d57a1"/>
<path d="M368.40,483.03 L369.90,483.11 L371.40,483.17 L372.90,483.24 L374.40,483.30 L375.90,483.35 L377.40,483.40 L378.90,483.44 L380.40,483.48 L381.90,483.50 L383.40,483.49 L384.90,483.42 L385.30,483.37 L385.70,483.29 L386.10,483.15 L386.50,482.91 L386.90,482.52 L387.30,481.93 L387.70,481.10 L388.10,480.03 L388.50,478.81 L388.90,477.60 L389.30,476.68 L389.70,476.32 L390.10,476.70 L390.50,477.64 L390.90,478.87 L391.30,480.11 L391.70,481.20 L392.10,482.05 L392.50,482.66 L392.90,483.07 L393.30,483.33 L393.70,483.49 L394.10,483.59 L394.50,483.66 L394.90,483.71 L395.30,483.75 L395.70,483.78 L396.10,483.81 L397.60,483.89 L399.10,483.95 L400.60,483.99 L402.10,484.03 L403.60,484.06 L405.10,484.09 L406.60,484.11 L408.10,484.13 L409.60,484.14 L411.10,484.15 L412.60,484.15 L414.10,484.13 L415.60,484.07 L416.00,484.03 L416.40,483.97 L416.80,483.86 L417.20,483.68 L417.60,483.35 L418.00,482.81 L418.40,482.03 L418.80,481.02 L419.20,479.88 L419.60,478.86 L420.00,478.32 L420.40,478.52 L420.80,479.35 L421.20,480.47 L421.60,481.58 L422.00,482.49 L422.40,483.15 L422.80,483.59 L423.20,483.84 L423.60,483.99 L424.00,484.08 L424.40,484.13 L424.80,484.17 L425.20,484.20 L425.60,484.22 L426.00,484.24 L426.40,484.26 L427.90,484.30 L429.40,484.33 L430.90,484.35 L432.40,484.37 L433.90,484.38 L435.40,484.40 L436.90,484.41 L438.40,484.42 L439.90,484.43 L441.40,484.44" stroke="#08468a"/>
<path d="M368.40,463.48 L369.90,463.54 L371.40,463.60 L372.90,463.66 L374.40,463.71 L375.90,463.75 L377.40,463.79 L378.90,463.83 L380.40,463.85 L381.90,463.86 L383.40,463.84 L384.90,463.76 L385.30,463.71 L385.70,463.62 L386.10,463.46 L386.50,463.21 L386.90,462.79 L387.30,462.16 L387.70,461.27 L388.10,460.13 L388.50,458.82 L388.90,457.53 L389.30,456.54 L389.70,456.16 L390.10,456.56 L390.50,457.57 L390.90,458.87 L391.30,460.20 L391.70,461.35 L392.10,462.26 L392.50,462.91 L392.90,463.34 L393.30,463.62 L393.70,463.79 L394.10,463.89 L394.50,463.97 L394.90,464.02 L395.30,464.06 L395.70,464.09 L396.10,464.12 L397.60,464.20 L399.10,464.25 L400.60,464.29 L402.10,464.33 L403.60,464.35 L405.10,464.38 L406.60,464.40 L408.10,464.41 L409.60,464.42 L411.10,464.43 L412.60,464.42 L414.10,464.40 L415.60,464.33 L416.00,464.29 L416.40,464.22 L416.80,464.11 L417.20,463.90 L417.60,463.54 L418.00,462.96 L418.40,462.12 L418.80,461.01 L419.20,459.78 L419.60,458.68 L420.00,458.10 L420.40,458.31 L420.80,459.20 L421.20,460.42 L421.60,461.62 L422.00,462.61 L422.40,463.32 L422.80,463.79 L423.20,464.07 L423.60,464.23 L424.00,464.32 L424.40,464.38 L424.80,464.42 L425.20,464.45 L425.60,464.47 L426.00,464.49 L426.40,464.51 L427.90,464.56 L429.40,464.59 L430.90,464.61 L432.40,464.62 L433.90,464.64 L435.40,464.65 L436.90,464.66 L438.40,464.67 L439.90,464.68 L441.40,464.69" stroke="#08306b"/>
</g>
<rect x="368.40000000000003" y="357.2" width="73.5" height="269.2" fill="none" stroke="#111" stroke-width="1.4"/>
<line x1="384.50" y1="626.4" x2="384.50" y2="629.4" stroke="#222" stroke-width="1"/>
<line x1="421.40" y1="626.4" x2="421.40" y2="629.4" stroke="#222" stroke-width="1"/>
<text x="373.54" y="641.00" font-size="13.6" fill="#111" textLength="21.93" lengthAdjust="spacingAndGlyphs" stroke="#111" stroke-width="0" >2.5</text>
<text x="410.44" y="641.00" font-size="13.6" fill="#111" textLength="21.93" lengthAdjust="spacingAndGlyphs" stroke="#111" stroke-width="0" >2.3</text>
<clipPath id="cc5"><rect x="449.45000000000005" y="357.2" width="72.3" height="269.2"/></clipPath>
<g clip-path="url(#cc5)" fill="none" stroke-width="1.35" stroke-linejoin="round">
<path d="M448.85,599.05 L450.35,599.19 L451.85,599.32 L453.35,599.45 L454.85,599.57 L456.35,599.68 L457.85,599.79 L459.35,599.89 L460.85,599.99 L462.35,600.08 L463.85,600.17 L465.35,600.25 L465.75,600.28 L466.15,600.30 L466.55,600.32 L466.95,600.34 L467.35,600.36 L467.75,600.38 L468.15,600.40 L468.55,600.42 L468.95,600.44 L469.35,600.46 L469.75,600.48 L470.15,600.50 L470.55,600.52 L470.95,600.53 L471.35,600.55 L471.75,600.57 L472.15,600.59 L472.55,600.60 L472.95,600.62 L473.35,600.64 L473.75,600.65 L474.15,600.67 L474.55,600.69 L474.95,600.70 L475.35,600.72 L475.75,600.73 L476.15,600.75 L476.55,600.77 L478.05,600.82 L479.55,600.87 L481.05,600.92 L482.55,600.97 L484.05,601.02 L485.55,601.06 L487.05,601.10 L488.55,601.14 L490.05,601.17 L491.55,601.21 L493.05,601.24 L494.55,601.28 L496.05,601.31 L496.45,601.31 L496.85,601.32 L497.25,601.33 L497.65,601.34 L498.05,601.34 L498.45,601.35 L498.85,601.36 L499.25,601.37 L499.65,601.37 L500.05,601.38 L500.45,601.39 L500.85,601.39 L501.25,601.40 L501.65,601.41 L502.05,601.41 L502.45,601.42 L502.85,601.43 L503.25,601.43 L503.65,601.44 L504.05,601.44 L504.45,601.45 L504.85,601.46 L505.25,601.46 L505.65,601.47 L506.05,601.47 L506.45,601.48 L506.85,601.48 L508.35,601.50 L509.85,601.52 L511.35,601.54 L512.85,601.56 L514.35,601.57 L515.85,601.59 L517.35,601.61 L518.85,601.62 L520.35,601.63 L521.85,601.65" stroke="#4a98c9"/>
<path d="M448.85,579.50 L450.35,579.63 L451.85,579.75 L453.35,579.87 L454.85,579.98 L456.35,580.08 L457.85,580.18 L459.35,580.28 L460.85,580.37 L462.35,580.45 L463.85,580.53 L465.35,580.61 L465.75,580.63 L466.15,580.65 L466.55,580.67 L466.95,580.69 L467.35,580.71 L467.75,580.73 L468.15,580.75 L468.55,580.76 L468.95,580.78 L469.35,580.80 L469.75,580.82 L470.15,580.84 L470.55,580.85 L470.95,580.87 L471.35,580.89 L471.75,580.90 L472.15,580.92 L472.55,580.93 L472.95,580.95 L473.35,580.97 L473.75,580.98 L474.15,581.00 L474.55,581.01 L474.95,581.03 L475.35,581.04 L475.75,581.06 L476.15,581.07 L476.55,581.08 L478.05,581.13 L479.55,581.18 L481.05,581.23 L482.55,581.27 L484.05,581.31 L485.55,581.35 L487.05,581.39 L488.55,581.43 L490.05,581.46 L491.55,581.49 L493.05,581.52 L494.55,581.55 L496.05,581.58 L496.45,581.59 L496.85,581.60 L497.25,581.60 L497.65,581.61 L498.05,581.62 L498.45,581.62 L498.85,581.63 L499.25,581.64 L499.65,581.64 L500.05,581.65 L500.45,581.66 L500.85,581.66 L501.25,581.67 L501.65,581.67 L502.05,581.68 L502.45,581.69 L502.85,581.69 L503.25,581.70 L503.65,581.70 L504.05,581.71 L504.45,581.72 L504.85,581.72 L505.25,581.73 L505.65,581.73 L506.05,581.74 L506.45,581.74 L506.85,581.75 L508.35,581.77 L509.85,581.78 L511.35,581.80 L512.85,581.82 L514.35,581.83 L515.85,581.85 L517.35,581.86 L518.85,581.87 L520.35,581.88 L521.85,581.90" stroke="#3b8bc2"/>
<path d="M448.85,559.95 L450.35,560.06 L451.85,560.18 L453.35,560.28 L454.85,560.38 L456.35,560.48 L457.85,560.57 L459.35,560.65 L460.85,560.73 L462.35,560.81 L463.85,560.88 L465.35,560.93 L465.75,560.94 L466.15,560.95 L466.55,560.95 L466.95,560.93 L467.35,560.89 L467.75,560.83 L468.15,560.74 L468.55,560.61 L468.95,560.46 L469.35,560.31 L469.75,560.21 L470.15,560.17 L470.55,560.24 L470.95,560.38 L471.35,560.56 L471.75,560.73 L472.15,560.89 L472.55,561.02 L472.95,561.11 L473.35,561.18 L473.75,561.23 L474.15,561.26 L474.55,561.29 L474.95,561.31 L475.35,561.33 L475.75,561.35 L476.15,561.36 L476.55,561.38 L478.05,561.43 L479.55,561.48 L481.05,561.53 L482.55,561.57 L484.05,561.61 L485.55,561.64 L487.05,561.68 L488.55,561.71 L490.05,561.74 L491.55,561.77 L493.05,561.79 L494.55,561.81 L496.05,561.83 L496.45,561.83 L496.85,561.82 L497.25,561.81 L497.65,561.78 L498.05,561.73 L498.45,561.65 L498.85,561.53 L499.25,561.36 L499.65,561.18 L500.05,561.01 L500.45,560.93 L500.85,560.97 L501.25,561.11 L501.65,561.30 L502.05,561.49 L502.45,561.65 L502.85,561.76 L503.25,561.84 L503.65,561.89 L504.05,561.92 L504.45,561.94 L504.85,561.95 L505.25,561.96 L505.65,561.97 L506.05,561.98 L506.45,561.99 L506.85,561.99 L508.35,562.01 L509.85,562.03 L511.35,562.05 L512.85,562.07 L514.35,562.08 L515.85,562.10 L517.35,562.11 L518.85,562.12 L520.35,562.13 L521.85,562.14" stroke="#2e7ebc"/>
<path d="M448.85,540.40 L450.35,540.50 L451.85,540.60 L453.35,540.70 L454.85,540.79 L456.35,540.87 L457.85,540.96 L459.35,541.03 L460.85,541.10 L462.35,541.16 L463.85,541.22 L465.35,541.25 L465.75,541.25 L466.15,541.24 L466.55,541.22 L466.95,541.17 L467.35,541.08 L467.75,540.93 L468.15,540.72 L468.55,540.45 L468.95,540.14 L469.35,539.83 L469.75,539.59 L470.15,539.51 L470.55,539.62 L470.95,539.89 L471.35,540.23 L471.75,540.57 L472.15,540.87 L472.55,541.11 L472.95,541.28 L473.35,541.40 L473.75,541.48 L474.15,541.53 L474.55,541.57 L474.95,541.60 L475.35,541.62 L475.75,541.64 L476.15,541.66 L476.55,541.68 L478.05,541.73 L479.55,541.78 L481.05,541.82 L482.55,541.86 L484.05,541.90 L485.55,541.93 L487.05,541.96 L488.55,541.99 L490.05,542.02 L491.55,542.05 L493.05,542.07 L494.55,542.08 L496.05,542.09 L496.45,542.08 L496.85,542.07 L497.25,542.05 L497.65,542.01 L498.05,541.93 L498.45,541.80 L498.85,541.61 L499.25,541.36 L499.65,541.08 L500.05,540.83 L500.45,540.70 L500.85,540.75 L501.25,540.97 L501.65,541.25 L502.05,541.53 L502.45,541.76 L502.85,541.93 L503.25,542.04 L503.65,542.11 L504.05,542.15 L504.45,542.18 L504.85,542.20 L505.25,542.21 L505.65,542.22 L506.05,542.23 L506.45,542.24 L506.85,542.25 L508.35,542.27 L509.85,542.29 L511.35,542.31 L512.85,542.32 L514.35,542.34 L515.85,542.35 L517.35,542.36 L518.85,542.37 L520.35,542.38 L521.85,542.39" stroke="#2070b4"/>
<path d="M448.85,520.84 L450.35,520.94 L451.85,521.03 L453.35,521.11 L454.85,521.20 L456.35,521.27 L457.85,521.34 L459.35,521.41 L460.85,521.47 L462.35,521.52 L463.85,521.56 L465.35,521.57 L465.75,521.56 L466.15,521.54 L466.55,521.50 L466.95,521.41 L467.35,521.26 L467.75,521.04 L468.15,520.71 L468.55,520.30 L468.95,519.82 L469.35,519.34 L469.75,518.98 L470.15,518.85 L470.55,519.01 L470.95,519.40 L471.35,519.90 L471.75,520.40 L472.15,520.84 L472.55,521.19 L472.95,521.44 L473.35,521.62 L473.75,521.73 L474.15,521.80 L474.55,521.85 L474.95,521.88 L475.35,521.91 L475.75,521.94 L476.15,521.96 L476.55,521.97 L478.05,522.03 L479.55,522.08 L481.05,522.12 L482.55,522.16 L484.05,522.19 L485.55,522.22 L487.05,522.25 L488.55,522.28 L490.05,522.31 L491.55,522.33 L493.05,522.35 L494.55,522.36 L496.05,522.36 L496.45,522.36 L496.85,522.35 L497.25,522.32 L497.65,522.28 L498.05,522.20 L498.45,522.07 L498.85,521.88 L499.25,521.63 L499.65,521.35 L500.05,521.10 L500.45,520.97 L500.85,521.02 L501.25,521.23 L501.65,521.52 L502.05,521.80 L502.45,522.03 L502.85,522.20 L503.25,522.31 L503.65,522.38 L504.05,522.42 L504.45,522.44 L504.85,522.46 L505.25,522.47 L505.65,522.48 L506.05,522.49 L506.45,522.50 L506.85,522.51 L508.35,522.53 L509.85,522.55 L511.35,522.56 L512.85,522.58 L514.35,522.59 L515.85,522.60 L517.35,522.61 L518.85,522.62 L520.35,522.63 L521.85,522.64" stroke="#1764ab"/>
<path d="M448.85,501.29 L450.35,501.38 L451.85,501.46 L453.35,501.53 L454.85,501.61 L456.35,501.67 L457.85,501.74 L459.35,501.79 L460.85,501.85 L462.35,501.89 L463.85,501.92 L465.35,501.93 L465.75,501.92 L466.15,501.90 L466.55,501.85 L466.95,501.76 L467.35,501.61 L467.75,501.38 L468.15,501.06 L468.55,500.64 L468.95,500.16 L469.35,499.69 L469.75,499.32 L470.15,499.19 L470.55,499.34 L470.95,499.73 L471.35,500.23 L471.75,500.73 L472.15,501.17 L472.55,501.52 L472.95,501.77 L473.35,501.94 L473.75,502.05 L474.15,502.13 L474.55,502.17 L474.95,502.21 L475.35,502.23 L475.75,502.25 L476.15,502.27 L476.55,502.29 L478.05,502.35 L479.55,502.39 L481.05,502.43 L482.55,502.46 L484.05,502.49 L485.55,502.52 L487.05,502.54 L488.55,502.57 L490.05,502.59 L491.55,502.61 L493.05,502.62 L494.55,502.63 L496.05,502.62 L496.45,502.61 L496.85,502.60 L497.25,502.56 L497.65,502.50 L498.05,502.40 L498.45,502.22 L498.85,501.97 L499.25,501.63 L499.65,501.25 L500.05,500.92 L500.45,500.74 L500.85,500.81 L501.25,501.09 L501.65,501.47 L502.05,501.84 L502.45,502.15 L502.85,502.37 L503.25,502.52 L503.65,502.60 L504.05,502.66 L504.45,502.69 L504.85,502.71 L505.25,502.72 L505.65,502.74 L506.05,502.75 L506.45,502.76 L506.85,502.76 L508.35,502.79 L509.85,502.80 L511.35,502.82 L512.85,502.83 L514.35,502.85 L515.85,502.86 L517.35,502.87 L518.85,502.88 L520.35,502.89 L521.85,502.89" stroke="#0d57a1"/>
<path d="M448.85,481.74 L450.35,481.82 L451.85,481.89 L453.35,481.95 L454.85,482.02 L456.35,482.07 L457.85,482.13 L459.35,482.18 L460.85,482.22 L462.35,482.26 L463.85,482.29 L465.35,482.29 L465.75,482.28 L466.15,482.25 L466.55,482.20 L466.95,482.11 L467.35,481.96 L467.75,481.73 L468.15,481.41 L468.55,480.99 L468.95,480.50 L469.35,480.03 L469.75,479.66 L470.15,479.53 L470.55,479.68 L470.95,480.07 L471.35,480.56 L471.75,481.07 L472.15,481.51 L472.55,481.85 L472.95,482.10 L473.35,482.27 L473.75,482.38 L474.15,482.45 L474.55,482.50 L474.95,482.53 L475.35,482.55 L475.75,482.58 L476.15,482.59 L476.55,482.61 L478.05,482.66 L479.55,482.70 L481.05,482.73 L482.55,482.76 L484.05,482.79 L485.55,482.81 L487.05,482.84 L488.55,482.86 L490.05,482.88 L491.55,482.89 L493.05,482.90 L494.55,482.91 L496.05,482.90 L496.45,482.89 L496.85,482.87 L497.25,482.84 L497.65,482.78 L498.05,482.67 L498.45,482.50 L498.85,482.24 L499.25,481.90 L499.65,481.53 L500.05,481.19 L500.45,481.01 L500.85,481.08 L501.25,481.36 L501.65,481.74 L502.05,482.11 L502.45,482.41 L502.85,482.64 L503.25,482.78 L503.65,482.87 L504.05,482.92 L504.45,482.95 L504.85,482.97 L505.25,482.99 L505.65,483.00 L506.05,483.01 L506.45,483.02 L506.85,483.03 L508.35,483.05 L509.85,483.06 L511.35,483.08 L512.85,483.09 L514.35,483.10 L515.85,483.11 L517.35,483.12 L518.85,483.13 L520.35,483.14 L521.85,483.14" stroke="#08468a"/>
<path d="M448.85,462.19 L450.35,462.26 L451.85,462.32 L453.35,462.37 L454.85,462.43 L456.35,462.48 L457.85,462.52 L459.35,462.56 L460.85,462.60 L462.35,462.63 L463.85,462.65 L465.35,462.65 L465.75,462.63 L466.15,462.60 L466.55,462.55 L466.95,462.46 L467.35,462.31 L467.75,462.08 L468.15,461.75 L468.55,461.33 L468.95,460.85 L469.35,460.37 L469.75,460.00 L470.15,459.87 L470.55,460.02 L470.95,460.40 L471.35,460.90 L471.75,461.40 L472.15,461.84 L472.55,462.18 L472.95,462.43 L473.35,462.60 L473.75,462.71 L474.15,462.78 L474.55,462.82 L474.95,462.85 L475.35,462.88 L475.75,462.90 L476.15,462.91 L476.55,462.93 L478.05,462.97 L479.55,463.01 L481.05,463.04 L482.55,463.06 L484.05,463.09 L485.55,463.11 L487.05,463.13 L488.55,463.15 L490.05,463.16 L491.55,463.17 L493.05,463.18 L494.55,463.19 L496.05,463.17 L496.45,463.16 L496.85,463.15 L497.25,463.11 L497.65,463.05 L498.05,462.95 L498.45,462.77 L498.85,462.51 L499.25,462.17 L499.65,461.80 L500.05,461.46 L500.45,461.28 L500.85,461.35 L501.25,461.63 L501.65,462.00 L502.05,462.38 L502.45,462.68 L502.85,462.90 L503.25,463.05 L503.65,463.14 L504.05,463.19 L504.45,463.22 L504.85,463.24 L505.25,463.25 L505.65,463.26 L506.05,463.27 L506.45,463.28 L506.85,463.29 L508.35,463.31 L509.85,463.32 L511.35,463.34 L512.85,463.35 L514.35,463.36 L515.85,463.37 L517.35,463.37 L518.85,463.38 L520.35,463.39 L521.85,463.39" stroke="#08306b"/>
</g>
<rect x="448.85" y="357.2" width="73.5" height="269.2" fill="none" stroke="#111" stroke-width="1.4"/>
<line x1="464.95" y1="626.4" x2="464.95" y2="629.4" stroke="#222" stroke-width="1"/>
<line x1="501.85" y1="626.4" x2="501.85" y2="629.4" stroke="#222" stroke-width="1"/>
<text x="453.99" y="641.00" font-size="13.6" fill="#111" textLength="21.93" lengthAdjust="spacingAndGlyphs" stroke="#111" stroke-width="0" >2.5</text>
<text x="490.89" y="641.00" font-size="13.6" fill="#111" textLength="21.93" lengthAdjust="spacingAndGlyphs" stroke="#111" stroke-width="0" >2.3</text>
<clipPath id="cc6"><rect x="529.9000000000001" y="357.2" width="72.3" height="269.2"/></clipPath>
<g clip-path="url(#cc6)" fill="none" stroke-width="1.35" stroke-linejoin="round">
<path d="M529.30,595.85 L530.80,595.99 L532.30,596.12 L533.80,596.25 L535.30,596.37 L536.80,596.48 L538.30,596.59 L539.80,596.69 L541.30,596.79 L542.80,596.88 L544.30,596.97 L545.80,597.05 L546.20,597.08 L546.60,597.10 L547.00,597.12 L547.40,597.14 L547.80,597.16 L548.20,597.18 L548.60,597.20 L549.00,597.22 L549.40,597.24 L549.80,597.26 L550.20,597.28 L550.60,597.30 L551.00,597.32 L551.40,597.33 L551.80,597.35 L552.20,597.37 L552.60,597.39 L553.00,597.40 L553.40,597.42 L553.80,597.44 L554.20,597.45 L554.60,597.47 L555.00,597.49 L555.40,597.50 L555.80,597.52 L556.20,597.53 L556.60,597.55 L557.00,597.57 L558.50,597.62 L560.00,597.67 L561.50,597.72 L563.00,597.77 L564.50,597.82 L566.00,597.86 L567.50,597.90 L569.00,597.94 L570.50,597.97 L572.00,598.01 L573.50,598.04 L575.00,598.08 L576.50,598.11 L576.90,598.11 L577.30,598.12 L577.70,598.13 L578.10,598.14 L578.50,598.14 L578.90,598.15 L579.30,598.16 L579.70,598.17 L580.10,598.17 L580.50,598.18 L580.90,598.19 L581.30,598.19 L581.70,598.20 L582.10,598.21 L582.50,598.21 L582.90,598.22 L583.30,598.23 L583.70,598.23 L584.10,598.24 L584.50,598.24 L584.90,598.25 L585.30,598.26 L585.70,598.26 L586.10,598.27 L586.50,598.27 L586.90,598.28 L587.30,598.28 L588.80,598.30 L590.30,598.32 L591.80,598.34 L593.30,598.36 L594.80,598.37 L596.30,598.39 L597.80,598.41 L599.30,598.42 L600.80,598.43 L602.30,598.45" stroke="#4a98c9"/>
<path d="M529.30,576.30 L530.80,576.43 L532.30,576.55 L533.80,576.67 L535.30,576.78 L536.80,576.88 L538.30,576.98 L539.80,577.08 L541.30,577.17 L542.80,577.25 L544.30,577.33 L545.80,577.41 L546.20,577.43 L546.60,577.45 L547.00,577.47 L547.40,577.49 L547.80,577.51 L548.20,577.53 L548.60,577.55 L549.00,577.56 L549.40,577.58 L549.80,577.60 L550.20,577.62 L550.60,577.64 L551.00,577.65 L551.40,577.67 L551.80,577.69 L552.20,577.70 L552.60,577.72 L553.00,577.73 L553.40,577.75 L553.80,577.77 L554.20,577.78 L554.60,577.80 L555.00,577.81 L555.40,577.83 L555.80,577.84 L556.20,577.86 L556.60,577.87 L557.00,577.88 L558.50,577.93 L560.00,577.98 L561.50,578.03 L563.00,578.07 L564.50,578.11 L566.00,578.15 L567.50,578.19 L569.00,578.23 L570.50,578.26 L572.00,578.29 L573.50,578.32 L575.00,578.35 L576.50,578.38 L576.90,578.39 L577.30,578.40 L577.70,578.40 L578.10,578.41 L578.50,578.42 L578.90,578.42 L579.30,578.43 L579.70,578.44 L580.10,578.44 L580.50,578.45 L580.90,578.46 L581.30,578.46 L581.70,578.47 L582.10,578.47 L582.50,578.48 L582.90,578.49 L583.30,578.49 L583.70,578.50 L584.10,578.50 L584.50,578.51 L584.90,578.52 L585.30,578.52 L585.70,578.53 L586.10,578.53 L586.50,578.54 L586.90,578.54 L587.30,578.55 L588.80,578.57 L590.30,578.58 L591.80,578.60 L593.30,578.62 L594.80,578.63 L596.30,578.65 L597.80,578.66 L599.30,578.67 L600.80,578.68 L602.30,578.70" stroke="#3b8bc2"/>
<path d="M529.30,556.75 L530.80,556.87 L532.30,556.98 L533.80,557.08 L535.30,557.18 L536.80,557.28 L538.30,557.37 L539.80,557.45 L541.30,557.53 L542.80,557.61 L544.30,557.68 L545.80,557.73 L546.20,557.74 L546.60,557.75 L547.00,557.75 L547.40,557.73 L547.80,557.69 L548.20,557.63 L548.60,557.54 L549.00,557.41 L549.40,557.26 L549.80,557.12 L550.20,557.01 L550.60,556.97 L551.00,557.04 L551.40,557.18 L551.80,557.36 L552.20,557.54 L552.60,557.69 L553.00,557.82 L553.40,557.92 L553.80,557.98 L554.20,558.03 L554.60,558.06 L555.00,558.09 L555.40,558.11 L555.80,558.13 L556.20,558.15 L556.60,558.16 L557.00,558.18 L558.50,558.23 L560.00,558.28 L561.50,558.33 L563.00,558.37 L564.50,558.41 L566.00,558.44 L567.50,558.48 L569.00,558.51 L570.50,558.54 L572.00,558.57 L573.50,558.60 L575.00,558.62 L576.50,558.64 L576.90,558.64 L577.30,558.65 L577.70,558.64 L578.10,558.63 L578.50,558.61 L578.90,558.57 L579.30,558.51 L579.70,558.44 L580.10,558.35 L580.50,558.27 L580.90,558.23 L581.30,558.25 L581.70,558.32 L582.10,558.42 L582.50,558.52 L582.90,558.60 L583.30,558.66 L583.70,558.70 L584.10,558.73 L584.50,558.75 L584.90,558.76 L585.30,558.77 L585.70,558.78 L586.10,558.78 L586.50,558.79 L586.90,558.79 L587.30,558.80 L588.80,558.82 L590.30,558.84 L591.80,558.85 L593.30,558.87 L594.80,558.88 L596.30,558.90 L597.80,558.91 L599.30,558.92 L600.80,558.93 L602.30,558.95" stroke="#2e7ebc"/>
<path d="M529.30,537.20 L530.80,537.30 L532.30,537.40 L533.80,537.50 L535.30,537.59 L536.80,537.68 L538.30,537.76 L539.80,537.83 L541.30,537.91 L542.80,537.97 L544.30,538.03 L545.80,538.07 L546.20,538.08 L546.60,538.07 L547.00,538.06 L547.40,538.03 L547.80,537.96 L548.20,537.86 L548.60,537.70 L549.00,537.50 L549.40,537.27 L549.80,537.04 L550.20,536.87 L550.60,536.81 L551.00,536.90 L551.40,537.10 L551.80,537.36 L552.20,537.62 L552.60,537.85 L553.00,538.03 L553.40,538.16 L553.80,538.25 L554.20,538.32 L554.60,538.36 L555.00,538.39 L555.40,538.42 L555.80,538.44 L556.20,538.46 L556.60,538.47 L557.00,538.49 L558.50,538.54 L560.00,538.59 L561.50,538.63 L563.00,538.67 L564.50,538.70 L566.00,538.74 L567.50,538.77 L569.00,538.80 L570.50,538.83 L572.00,538.85 L573.50,538.87 L575.00,538.89 L576.50,538.90 L576.90,538.90 L577.30,538.90 L577.70,538.88 L578.10,538.86 L578.50,538.81 L578.90,538.72 L579.30,538.60 L579.70,538.43 L580.10,538.25 L580.50,538.08 L580.90,538.00 L581.30,538.04 L581.70,538.18 L582.10,538.37 L582.50,538.56 L582.90,538.72 L583.30,538.83 L583.70,538.91 L584.10,538.95 L584.50,538.98 L584.90,539.00 L585.30,539.01 L585.70,539.03 L586.10,539.03 L586.50,539.04 L586.90,539.05 L587.30,539.05 L588.80,539.08 L590.30,539.09 L591.80,539.11 L593.30,539.12 L594.80,539.14 L596.30,539.15 L597.80,539.16 L599.30,539.17 L600.80,539.18 L602.30,539.19" stroke="#2070b4"/>
<path d="M529.30,517.65 L530.80,517.74 L532.30,517.83 L533.80,517.92 L535.30,518.00 L536.80,518.08 L538.30,518.15 L539.80,518.22 L541.30,518.28 L542.80,518.34 L544.30,518.39 L545.80,518.43 L546.20,518.43 L546.60,518.43 L547.00,518.41 L547.40,518.38 L547.80,518.31 L548.20,518.20 L548.60,518.05 L549.00,517.85 L549.40,517.62 L549.80,517.38 L550.20,517.21 L550.60,517.15 L551.00,517.24 L551.40,517.44 L551.80,517.69 L552.20,517.95 L552.60,518.18 L553.00,518.36 L553.40,518.49 L553.80,518.58 L554.20,518.64 L554.60,518.69 L555.00,518.72 L555.40,518.74 L555.80,518.76 L556.20,518.78 L556.60,518.79 L557.00,518.81 L558.50,518.85 L560.00,518.90 L561.50,518.93 L563.00,518.97 L564.50,519.00 L566.00,519.03 L567.50,519.06 L569.00,519.09 L570.50,519.11 L572.00,519.13 L573.50,519.15 L575.00,519.17 L576.50,519.18 L576.90,519.18 L577.30,519.17 L577.70,519.16 L578.10,519.13 L578.50,519.08 L578.90,519.00 L579.30,518.87 L579.70,518.71 L580.10,518.52 L580.50,518.36 L580.90,518.27 L581.30,518.31 L581.70,518.45 L582.10,518.64 L582.50,518.83 L582.90,518.98 L583.30,519.10 L583.70,519.17 L584.10,519.22 L584.50,519.25 L584.90,519.27 L585.30,519.28 L585.70,519.29 L586.10,519.30 L586.50,519.30 L586.90,519.31 L587.30,519.32 L588.80,519.34 L590.30,519.35 L591.80,519.37 L593.30,519.38 L594.80,519.39 L596.30,519.41 L597.80,519.42 L599.30,519.43 L600.80,519.44 L602.30,519.45" stroke="#1764ab"/>
<path d="M529.30,498.10 L530.80,498.18 L532.30,498.26 L533.80,498.34 L535.30,498.41 L536.80,498.48 L538.30,498.54 L539.80,498.60 L541.30,498.66 L542.80,498.71 L544.30,498.75 L545.80,498.77 L546.20,498.76 L546.60,498.75 L547.00,498.73 L547.40,498.67 L547.80,498.58 L548.20,498.43 L548.60,498.22 L549.00,497.94 L549.40,497.63 L549.80,497.31 L550.20,497.07 L550.60,496.99 L551.00,497.10 L551.40,497.36 L551.80,497.69 L552.20,498.03 L552.60,498.33 L553.00,498.57 L553.40,498.74 L553.80,498.86 L554.20,498.93 L554.60,498.98 L555.00,499.02 L555.40,499.04 L555.80,499.06 L556.20,499.08 L556.60,499.10 L557.00,499.11 L558.50,499.16 L560.00,499.20 L561.50,499.24 L563.00,499.27 L564.50,499.30 L566.00,499.33 L567.50,499.35 L569.00,499.37 L570.50,499.40 L572.00,499.42 L573.50,499.43 L575.00,499.45 L576.50,499.45 L576.90,499.45 L577.30,499.45 L577.70,499.43 L578.10,499.41 L578.50,499.35 L578.90,499.27 L579.30,499.14 L579.70,498.98 L580.10,498.79 L580.50,498.63 L580.90,498.54 L581.30,498.58 L581.70,498.72 L582.10,498.91 L582.50,499.10 L582.90,499.25 L583.30,499.37 L583.70,499.44 L584.10,499.49 L584.50,499.51 L584.90,499.53 L585.30,499.54 L585.70,499.55 L586.10,499.56 L586.50,499.57 L586.90,499.57 L587.30,499.58 L588.80,499.60 L590.30,499.61 L591.80,499.63 L593.30,499.64 L594.80,499.65 L596.30,499.66 L597.80,499.67 L599.30,499.68 L600.80,499.69 L602.30,499.70" stroke="#0d57a1"/>
<path d="M529.30,478.55 L530.80,478.62 L532.30,478.69 L533.80,478.76 L535.30,478.82 L536.80,478.88 L538.30,478.93 L539.80,478.99 L541.30,479.03 L542.80,479.08 L544.30,479.11 L545.80,479.12 L546.20,479.12 L546.60,479.11 L547.00,479.08 L547.40,479.02 L547.80,478.93 L548.20,478.78 L548.60,478.56 L549.00,478.29 L549.40,477.97 L549.80,477.65 L550.20,477.41 L550.60,477.33 L551.00,477.43 L551.40,477.69 L551.80,478.03 L552.20,478.37 L552.60,478.66 L553.00,478.90 L553.40,479.07 L553.80,479.18 L554.20,479.26 L554.60,479.31 L555.00,479.34 L555.40,479.37 L555.80,479.39 L556.20,479.40 L556.60,479.42 L557.00,479.43 L558.50,479.47 L560.00,479.51 L561.50,479.54 L563.00,479.57 L564.50,479.60 L566.00,479.62 L567.50,479.64 L569.00,479.66 L570.50,479.68 L572.00,479.70 L573.50,479.71 L575.00,479.72 L576.50,479.71 L576.90,479.71 L577.30,479.70 L577.70,479.67 L578.10,479.63 L578.50,479.55 L578.90,479.42 L579.30,479.23 L579.70,478.98 L580.10,478.69 L580.50,478.44 L580.90,478.31 L581.30,478.36 L581.70,478.57 L582.10,478.86 L582.50,479.14 L582.90,479.37 L583.30,479.54 L583.70,479.65 L584.10,479.71 L584.50,479.75 L584.90,479.78 L585.30,479.79 L585.70,479.80 L586.10,479.81 L586.50,479.82 L586.90,479.83 L587.30,479.83 L588.80,479.85 L590.30,479.87 L591.80,479.88 L593.30,479.89 L594.80,479.90 L596.30,479.91 L597.80,479.92 L599.30,479.93 L600.80,479.94 L602.30,479.94" stroke="#08468a"/>
<path d="M529.30,459.00 L530.80,459.06 L532.30,459.12 L533.80,459.18 L535.30,459.23 L536.80,459.28 L538.30,459.33 L539.80,459.37 L541.30,459.41 L542.80,459.45 L544.30,459.47 L545.80,459.48 L546.20,459.48 L546.60,459.46 L547.00,459.43 L547.40,459.37 L547.80,459.28 L548.20,459.12 L548.60,458.91 L549.00,458.63 L549.40,458.31 L549.80,458.00 L550.20,457.75 L550.60,457.67 L551.00,457.77 L551.40,458.03 L551.80,458.36 L552.20,458.70 L552.60,458.99 L553.00,459.23 L553.40,459.40 L553.80,459.51 L554.20,459.58 L554.60,459.63 L555.00,459.67 L555.40,459.69 L555.80,459.71 L556.20,459.72 L556.60,459.74 L557.00,459.75 L558.50,459.79 L560.00,459.82 L561.50,459.85 L563.00,459.87 L564.50,459.89 L566.00,459.91 L567.50,459.93 L569.00,459.95 L570.50,459.97 L572.00,459.98 L573.50,459.99 L575.00,460.00 L576.50,459.99 L576.90,459.98 L577.30,459.97 L577.70,459.95 L578.10,459.90 L578.50,459.82 L578.90,459.69 L579.30,459.50 L579.70,459.25 L580.10,458.97 L580.50,458.71 L580.90,458.58 L581.30,458.63 L581.70,458.84 L582.10,459.13 L582.50,459.40 L582.90,459.63 L583.30,459.80 L583.70,459.91 L584.10,459.98 L584.50,460.02 L584.90,460.04 L585.30,460.06 L585.70,460.07 L586.10,460.08 L586.50,460.08 L586.90,460.09 L587.30,460.10 L588.80,460.11 L590.30,460.13 L591.80,460.14 L593.30,460.15 L594.80,460.16 L596.30,460.17 L597.80,460.18 L599.30,460.18 L600.80,460.19 L602.30,460.20" stroke="#08306b"/>
</g>
<rect x="529.3000000000001" y="357.2" width="73.5" height="269.2" fill="none" stroke="#111" stroke-width="1.4"/>
<line x1="545.40" y1="626.4" x2="545.40" y2="629.4" stroke="#222" stroke-width="1"/>
<line x1="582.30" y1="626.4" x2="582.30" y2="629.4" stroke="#222" stroke-width="1"/>
<text x="534.44" y="641.00" font-size="13.6" fill="#111" textLength="21.93" lengthAdjust="spacingAndGlyphs" stroke="#111" stroke-width="0" >2.5</text>
<text x="571.34" y="641.00" font-size="13.6" fill="#111" textLength="21.93" lengthAdjust="spacingAndGlyphs" stroke="#111" stroke-width="0" >2.3</text>
<clipPath id="cc7"><rect x="610.35" y="357.2" width="72.3" height="269.2"/></clipPath>
<g clip-path="url(#cc7)" fill="none" stroke-width="1.35" stroke-linejoin="round">
<path d="M609.75,597.25 L611.25,597.39 L612.75,597.52 L614.25,597.65 L615.75,597.77 L617.25,597.88 L618.75,597.99 L620.25,598.09 L621.75,598.19 L623.25,598.28 L624.75,598.37 L626.25,598.45 L626.65,598.48 L627.05,598.50 L627.45,598.52 L627.85,598.54 L628.25,598.56 L628.65,598.58 L629.05,598.60 L629.45,598.62 L629.85,598.64 L630.25,598.66 L630.65,598.68 L631.05,598.70 L631.45,598.72 L631.85,598.73 L632.25,598.75 L632.65,598.77 L633.05,598.79 L633.45,598.80 L633.85,598.82 L634.25,598.84 L634.65,598.85 L635.05,598.87 L635.45,598.89 L635.85,598.90 L636.25,598.92 L636.65,598.93 L637.05,598.95 L637.45,598.97 L638.95,599.02 L640.45,599.07 L641.95,599.12 L643.45,599.17 L644.95,599.22 L646.45,599.26 L647.95,599.30 L649.45,599.34 L650.95,599.37 L652.45,599.41 L653.95,599.44 L655.45,599.48 L656.95,599.51 L657.35,599.51 L657.75,599.52 L658.15,599.53 L658.55,599.54 L658.95,599.54 L659.35,599.55 L659.75,599.56 L660.15,599.57 L660.55,599.57 L660.95,599.58 L661.35,599.59 L661.75,599.59 L662.15,599.60 L662.55,599.61 L662.95,599.61 L663.35,599.62 L663.75,599.63 L664.15,599.63 L664.55,599.64 L664.95,599.64 L665.35,599.65 L665.75,599.66 L666.15,599.66 L666.55,599.67 L666.95,599.67 L667.35,599.68 L667.75,599.68 L669.25,599.70 L670.75,599.72 L672.25,599.74 L673.75,599.76 L675.25,599.77 L676.75,599.79 L678.25,599.81 L679.75,599.82 L681.25,599.83 L682.75,599.85" stroke="#4a98c9"/>
<path d="M609.75,577.70 L611.25,577.83 L612.75,577.95 L614.25,578.07 L615.75,578.18 L617.25,578.28 L618.75,578.38 L620.25,578.48 L621.75,578.57 L623.25,578.65 L624.75,578.73 L626.25,578.81 L626.65,578.83 L627.05,578.85 L627.45,578.87 L627.85,578.89 L628.25,578.91 L628.65,578.93 L629.05,578.95 L629.45,578.96 L629.85,578.98 L630.25,579.00 L630.65,579.02 L631.05,579.04 L631.45,579.05 L631.85,579.07 L632.25,579.09 L632.65,579.10 L633.05,579.12 L633.45,579.13 L633.85,579.15 L634.25,579.17 L634.65,579.18 L635.05,579.20 L635.45,579.21 L635.85,579.23 L636.25,579.24 L636.65,579.26 L637.05,579.27 L637.45,579.28 L638.95,579.33 L640.45,579.38 L641.95,579.43 L643.45,579.47 L644.95,579.51 L646.45,579.55 L647.95,579.59 L649.45,579.63 L650.95,579.66 L652.45,579.69 L653.95,579.72 L655.45,579.75 L656.95,579.78 L657.35,579.79 L657.75,579.80 L658.15,579.80 L658.55,579.81 L658.95,579.82 L659.35,579.82 L659.75,579.83 L660.15,579.84 L660.55,579.84 L660.95,579.85 L661.35,579.86 L661.75,579.86 L662.15,579.87 L662.55,579.87 L662.95,579.88 L663.35,579.89 L663.75,579.89 L664.15,579.90 L664.55,579.90 L664.95,579.91 L665.35,579.92 L665.75,579.92 L666.15,579.93 L666.55,579.93 L666.95,579.94 L667.35,579.94 L667.75,579.95 L669.25,579.97 L670.75,579.98 L672.25,580.00 L673.75,580.02 L675.25,580.03 L676.75,580.05 L678.25,580.06 L679.75,580.07 L681.25,580.08 L682.75,580.10" stroke="#3b8bc2"/>
<path d="M609.75,558.15 L611.25,558.26 L612.75,558.38 L614.25,558.48 L615.75,558.58 L617.25,558.68 L618.75,558.77 L620.25,558.85 L621.75,558.93 L623.25,559.01 L624.75,559.08 L626.25,559.13 L626.65,559.14 L627.05,559.15 L627.45,559.15 L627.85,559.13 L628.25,559.09 L628.65,559.03 L629.05,558.94 L629.45,558.81 L629.85,558.66 L630.25,558.51 L630.65,558.41 L631.05,558.37 L631.45,558.44 L631.85,558.58 L632.25,558.76 L632.65,558.93 L633.05,559.09 L633.45,559.22 L633.85,559.31 L634.25,559.38 L634.65,559.43 L635.05,559.46 L635.45,559.49 L635.85,559.51 L636.25,559.53 L636.65,559.55 L637.05,559.56 L637.45,559.58 L638.95,559.63 L640.45,559.68 L641.95,559.73 L643.45,559.77 L644.95,559.81 L646.45,559.84 L647.95,559.88 L649.45,559.91 L650.95,559.94 L652.45,559.97 L653.95,559.99 L655.45,560.01 L656.95,560.03 L657.35,560.03 L657.75,560.02 L658.15,560.01 L658.55,559.98 L658.95,559.93 L659.35,559.85 L659.75,559.73 L660.15,559.56 L660.55,559.38 L660.95,559.21 L661.35,559.13 L661.75,559.17 L662.15,559.31 L662.55,559.50 L662.95,559.69 L663.35,559.85 L663.75,559.96 L664.15,560.04 L664.55,560.09 L664.95,560.12 L665.35,560.14 L665.75,560.15 L666.15,560.16 L666.55,560.17 L666.95,560.18 L667.35,560.19 L667.75,560.19 L669.25,560.21 L670.75,560.23 L672.25,560.25 L673.75,560.27 L675.25,560.28 L676.75,560.30 L678.25,560.31 L679.75,560.32 L681.25,560.33 L682.75,560.34" stroke="#2e7ebc"/>
<path d="M609.75,538.60 L611.25,538.70 L612.75,538.80 L614.25,538.90 L615.75,538.99 L617.25,539.08 L618.75,539.16 L620.25,539.23 L621.75,539.31 L623.25,539.37 L624.75,539.43 L626.25,539.47 L626.65,539.48 L627.05,539.47 L627.45,539.46 L627.85,539.42 L628.25,539.36 L628.65,539.26 L629.05,539.10 L629.45,538.90 L629.85,538.67 L630.25,538.44 L630.65,538.27 L631.05,538.21 L631.45,538.30 L631.85,538.50 L632.25,538.76 L632.65,539.02 L633.05,539.25 L633.45,539.43 L633.85,539.56 L634.25,539.65 L634.65,539.72 L635.05,539.76 L635.45,539.79 L635.85,539.82 L636.25,539.84 L636.65,539.85 L637.05,539.87 L637.45,539.89 L638.95,539.94 L640.45,539.99 L641.95,540.03 L643.45,540.07 L644.95,540.10 L646.45,540.13 L647.95,540.17 L649.45,540.20 L650.95,540.22 L652.45,540.25 L653.95,540.27 L655.45,540.28 L656.95,540.29 L657.35,540.28 L657.75,540.27 L658.15,540.25 L658.55,540.21 L658.95,540.13 L659.35,540.00 L659.75,539.81 L660.15,539.56 L660.55,539.28 L660.95,539.03 L661.35,538.90 L661.75,538.95 L662.15,539.17 L662.55,539.45 L662.95,539.73 L663.35,539.96 L663.75,540.13 L664.15,540.25 L664.55,540.31 L664.95,540.35 L665.35,540.38 L665.75,540.40 L666.15,540.41 L666.55,540.42 L666.95,540.43 L667.35,540.44 L667.75,540.45 L669.25,540.47 L670.75,540.49 L672.25,540.51 L673.75,540.52 L675.25,540.54 L676.75,540.55 L678.25,540.56 L679.75,540.57 L681.25,540.58 L682.75,540.59" stroke="#2070b4"/>
<path d="M609.75,519.04 L611.25,519.14 L612.75,519.23 L614.25,519.32 L615.75,519.40 L617.25,519.47 L618.75,519.55 L620.25,519.61 L621.75,519.67 L623.25,519.73 L624.75,519.77 L626.25,519.79 L626.65,519.79 L627.05,519.77 L627.45,519.73 L627.85,519.66 L628.25,519.55 L628.65,519.36 L629.05,519.09 L629.45,518.75 L629.85,518.35 L630.25,517.96 L630.65,517.66 L631.05,517.55 L631.45,517.68 L631.85,518.01 L632.25,518.43 L632.65,518.85 L633.05,519.22 L633.45,519.51 L633.85,519.73 L634.25,519.87 L634.65,519.97 L635.05,520.03 L635.45,520.07 L635.85,520.10 L636.25,520.13 L636.65,520.15 L637.05,520.17 L637.45,520.18 L638.95,520.24 L640.45,520.28 L641.95,520.32 L643.45,520.36 L644.95,520.39 L646.45,520.42 L647.95,520.45 L649.45,520.48 L650.95,520.50 L652.45,520.52 L653.95,520.54 L655.45,520.55 L656.95,520.55 L657.35,520.54 L657.75,520.52 L658.15,520.49 L658.55,520.43 L658.95,520.33 L659.35,520.15 L659.75,519.89 L660.15,519.56 L660.55,519.18 L660.95,518.85 L661.35,518.67 L661.75,518.74 L662.15,519.02 L662.55,519.40 L662.95,519.77 L663.35,520.08 L663.75,520.30 L664.15,520.45 L664.55,520.54 L664.95,520.59 L665.35,520.62 L665.75,520.64 L666.15,520.66 L666.55,520.67 L666.95,520.68 L667.35,520.69 L667.75,520.70 L669.25,520.73 L670.75,520.75 L672.25,520.76 L673.75,520.78 L675.25,520.79 L676.75,520.80 L678.25,520.81 L679.75,520.82 L681.25,520.83 L682.75,520.84" stroke="#1764ab"/>
<path d="M609.75,499.49 L611.25,499.58 L612.75,499.66 L614.25,499.74 L615.75,499.81 L617.25,499.88 L618.75,499.94 L620.25,500.00 L621.75,500.05 L623.25,500.10 L624.75,500.13 L626.25,500.15 L626.65,500.14 L627.05,500.12 L627.45,500.09 L627.85,500.02 L628.25,499.89 L628.65,499.71 L629.05,499.44 L629.45,499.09 L629.85,498.69 L630.25,498.30 L630.65,498.00 L631.05,497.89 L631.45,498.02 L631.85,498.34 L632.25,498.76 L632.65,499.18 L633.05,499.55 L633.45,499.84 L633.85,500.06 L634.25,500.20 L634.65,500.29 L635.05,500.35 L635.45,500.39 L635.85,500.42 L636.25,500.45 L636.65,500.47 L637.05,500.49 L637.45,500.50 L638.95,500.55 L640.45,500.59 L641.95,500.63 L643.45,500.66 L644.95,500.69 L646.45,500.72 L647.95,500.75 L649.45,500.77 L650.95,500.79 L652.45,500.81 L653.95,500.82 L655.45,500.83 L656.95,500.82 L657.35,500.81 L657.75,500.80 L658.15,500.76 L658.55,500.71 L658.95,500.60 L659.35,500.42 L659.75,500.17 L660.15,499.83 L660.55,499.45 L660.95,499.12 L661.35,498.94 L661.75,499.01 L662.15,499.29 L662.55,499.67 L662.95,500.04 L663.35,500.35 L663.75,500.57 L664.15,500.72 L664.55,500.81 L664.95,500.86 L665.35,500.89 L665.75,500.91 L666.15,500.92 L666.55,500.94 L666.95,500.95 L667.35,500.96 L667.75,500.96 L669.25,500.99 L670.75,501.00 L672.25,501.02 L673.75,501.03 L675.25,501.05 L676.75,501.06 L678.25,501.07 L679.75,501.08 L681.25,501.09 L682.75,501.09" stroke="#0d57a1"/>
<path d="M609.75,479.94 L611.25,480.02 L612.75,480.09 L614.25,480.15 L615.75,480.22 L617.25,480.27 L618.75,480.33 L620.25,480.38 L621.75,480.42 L623.25,480.46 L624.75,480.49 L626.25,480.49 L626.65,480.48 L627.05,480.45 L627.45,480.40 L627.85,480.31 L628.25,480.16 L628.65,479.93 L629.05,479.61 L629.45,479.19 L629.85,478.70 L630.25,478.23 L630.65,477.86 L631.05,477.73 L631.45,477.88 L631.85,478.27 L632.25,478.76 L632.65,479.27 L633.05,479.71 L633.45,480.05 L633.85,480.30 L634.25,480.47 L634.65,480.58 L635.05,480.65 L635.45,480.70 L635.85,480.73 L636.25,480.75 L636.65,480.77 L637.05,480.79 L637.45,480.81 L638.95,480.86 L640.45,480.90 L641.95,480.93 L643.45,480.96 L644.95,480.99 L646.45,481.01 L647.95,481.03 L649.45,481.05 L650.95,481.07 L652.45,481.09 L653.95,481.10 L655.45,481.10 L656.95,481.08 L657.35,481.07 L657.75,481.05 L658.15,481.01 L658.55,480.93 L658.95,480.79 L659.35,480.57 L659.75,480.25 L660.15,479.83 L660.55,479.36 L660.95,478.94 L661.35,478.72 L661.75,478.80 L662.15,479.15 L662.55,479.62 L662.95,480.08 L663.35,480.46 L663.75,480.74 L664.15,480.92 L664.55,481.03 L664.95,481.09 L665.35,481.13 L665.75,481.16 L666.15,481.17 L666.55,481.19 L666.95,481.20 L667.35,481.21 L667.75,481.22 L669.25,481.24 L670.75,481.26 L672.25,481.28 L673.75,481.29 L675.25,481.30 L676.75,481.31 L678.25,481.32 L679.75,481.33 L681.25,481.34 L682.75,481.34" stroke="#08468a"/>
<path d="M609.75,460.39 L611.25,460.46 L612.75,460.52 L614.25,460.57 L615.75,460.63 L617.25,460.68 L618.75,460.72 L620.25,460.76 L621.75,460.80 L623.25,460.83 L624.75,460.85 L626.25,460.85 L626.65,460.83 L627.05,460.80 L627.45,460.75 L627.85,460.66 L628.25,460.51 L628.65,460.28 L629.05,459.95 L629.45,459.53 L629.85,459.05 L630.25,458.57 L630.65,458.20 L631.05,458.07 L631.45,458.22 L631.85,458.60 L632.25,459.10 L632.65,459.60 L633.05,460.04 L633.45,460.38 L633.85,460.63 L634.25,460.80 L634.65,460.91 L635.05,460.98 L635.45,461.02 L635.85,461.05 L636.25,461.08 L636.65,461.10 L637.05,461.11 L637.45,461.13 L638.95,461.17 L640.45,461.21 L641.95,461.24 L643.45,461.26 L644.95,461.29 L646.45,461.31 L647.95,461.33 L649.45,461.34 L650.95,461.36 L652.45,461.37 L653.95,461.38 L655.45,461.38 L656.95,461.36 L657.35,461.35 L657.75,461.32 L658.15,461.28 L658.55,461.20 L658.95,461.07 L659.35,460.85 L659.75,460.52 L660.15,460.10 L660.55,459.63 L660.95,459.21 L661.35,458.99 L661.75,459.07 L662.15,459.42 L662.55,459.88 L662.95,460.35 L663.35,460.73 L663.75,461.01 L664.15,461.19 L664.55,461.30 L664.95,461.36 L665.35,461.40 L665.75,461.42 L666.15,461.44 L666.55,461.45 L666.95,461.46 L667.35,461.47 L667.75,461.48 L669.25,461.50 L670.75,461.52 L672.25,461.53 L673.75,461.55 L675.25,461.56 L676.75,461.56 L678.25,461.57 L679.75,461.58 L681.25,461.59 L682.75,461.59" stroke="#08306b"/>
</g>
<rect x="609.75" y="357.2" width="73.5" height="269.2" fill="none" stroke="#111" stroke-width="1.4"/>
<line x1="625.85" y1="626.4" x2="625.85" y2="629.4" stroke="#222" stroke-width="1"/>
<line x1="662.75" y1="626.4" x2="662.75" y2="629.4" stroke="#222" stroke-width="1"/>
<text x="614.89" y="641.00" font-size="13.6" fill="#111" textLength="21.93" lengthAdjust="spacingAndGlyphs" stroke="#111" stroke-width="0" >2.5</text>
<text x="651.79" y="641.00" font-size="13.6" fill="#111" textLength="21.93" lengthAdjust="spacingAndGlyphs" stroke="#111" stroke-width="0" >2.3</text>
<text x="52.00" y="376.90" font-size="18.8" fill="#222" textLength="18.90" lengthAdjust="spacingAndGlyphs" stroke="#222" stroke-width="0.0" >P1</text>
<text x="133.80" y="376.90" font-size="18.8" fill="#222" textLength="19.90" lengthAdjust="spacingAndGlyphs" stroke="#222" stroke-width="0.0" >P2</text>
<text x="214.60" y="376.90" font-size="18.8" fill="#222" textLength="19.90" lengthAdjust="spacingAndGlyphs" stroke="#222" stroke-width="0.0" >P3</text>
<text x="292.80" y="376.90" font-size="18.8" fill="#222" textLength="19.00" lengthAdjust="spacingAndGlyphs" stroke="#222" stroke-width="0.0" >P4</text>
<text x="370.90" y="376.90" font-size="18.8" fill="#222" textLength="19.80" lengthAdjust="spacingAndGlyphs" stroke="#222" stroke-width="0.0" >P5</text>
<text x="452.30" y="376.90" font-size="18.8" fill="#222" textLength="19.80" lengthAdjust="spacingAndGlyphs" stroke="#222" stroke-width="0.0" >P6</text>
<text x="532.50" y="376.90" font-size="18.8" fill="#222" textLength="19.70" lengthAdjust="spacingAndGlyphs" stroke="#222" stroke-width="0.0" >P7</text>
<text x="613.60" y="376.90" font-size="18.8" fill="#222" textLength="19.40" lengthAdjust="spacingAndGlyphs" stroke="#222" stroke-width="0.0" >P8</text>
<text x="78.30" y="396.80" font-size="16" fill="#222" textLength="37.89" lengthAdjust="spacingAndGlyphs" stroke="#222" stroke-width="0.0" >(100)</text>
<circle cx="98.1" cy="403.9" r="3.9" fill="#f07f20"/>
<text x="50.30" y="443.80" font-size="16.4" fill="#222" textLength="36.99" lengthAdjust="spacingAndGlyphs" stroke="#222" stroke-width="0.0" >(002)</text>
<path d="M68.4,451.4 L72.8,458.9 L64,458.9 Z" fill="#4472c4"/>
<text x="283.90" y="658.60" font-size="16.6" fill="#222" textLength="109.80" lengthAdjust="spacingAndGlyphs" stroke="#222" stroke-width="0.1" >d-spacing (Å)</text>
<text transform="translate(40.60,531.50) rotate(-90)" x="0" y="0" font-size="21.5" fill="#111" textLength="84.00" lengthAdjust="spacingAndGlyphs" stroke="#111" stroke-width="0.15">Intensity</text>
<rect x="15" y="465" width="2.4" height="130" fill="#1b6a8c"/>
<path d="M16.2,457.6 L21.3,467 L11,467 Z" fill="#1b6a8c"/>
<text x="17.10" y="659.70" font-size="26" fill="#000" textLength="30.20" lengthAdjust="spacingAndGlyphs" stroke="#000" stroke-width="0.0" >(d)</text>
<clipPath id="dc0"><rect x="47.3" y="671.2" width="70.4" height="105.5"/></clipPath>
<g clip-path="url(#dc0)">
<circle cx="48.3" cy="776.5" r="1.95" fill="#ff7f0e"/>
<circle cx="57.5" cy="759.8" r="1.95" fill="#ff7f0e"/>
<circle cx="66.6" cy="745.5" r="1.95" fill="#ff7f0e"/>
<circle cx="76.3" cy="734.2" r="1.95" fill="#ff7f0e"/>
<circle cx="85.4" cy="718.7" r="1.95" fill="#ff7f0e"/>
<circle cx="94.9" cy="703.9" r="1.95" fill="#ff7f0e"/>
<circle cx="104.4" cy="690" r="1.95" fill="#ff7f0e"/>
<path d="M57.50,771.80 L60.10,776.60 L54.90,776.60 Z" fill="#1f77b4"/>
<path d="M66.60,770.80 L69.20,775.60 L64.00,775.60 Z" fill="#1f77b4"/>
<path d="M76.30,767.80 L78.90,772.60 L73.70,772.60 Z" fill="#1f77b4"/>
<path d="M85.40,766.30 L88.00,771.10 L82.80,771.10 Z" fill="#1f77b4"/>
<path d="M94.90,764.80 L97.50,769.60 L92.30,769.60 Z" fill="#1f77b4"/>
<path d="M104.40,766.00 L107.00,770.80 L101.80,770.80 Z" fill="#1f77b4"/>
</g>
<rect x="47.3" y="671.2" width="70.4" height="105.5" fill="none" stroke="#111" stroke-width="1.4"/>
<line x1="47.30" y1="776.7" x2="47.30" y2="779.9000000000001" stroke="#111" stroke-width="1"/>
<line x1="94.70" y1="776.7" x2="94.70" y2="779.9000000000001" stroke="#111" stroke-width="1"/>
<text x="44.28" y="790.90" font-size="12.3" fill="#111" textLength="6.84" lengthAdjust="spacingAndGlyphs" stroke="#111" stroke-width="0" >0</text>
<text x="86.64" y="790.90" font-size="12.3" fill="#111" textLength="15.32" lengthAdjust="spacingAndGlyphs" stroke="#111" stroke-width="0" >20</text>
<clipPath id="dc1"><rect x="128.14999999999998" y="671.2" width="70.4" height="105.5"/></clipPath>
<g clip-path="url(#dc1)">
<circle cx="129.4" cy="775.9" r="1.95" fill="#ff7f0e"/>
<circle cx="139.1" cy="763.8" r="1.95" fill="#ff7f0e"/>
<circle cx="148.5" cy="753.3" r="1.95" fill="#ff7f0e"/>
<circle cx="158" cy="747.1" r="1.95" fill="#ff7f0e"/>
<circle cx="167.4" cy="731.3" r="1.95" fill="#ff7f0e"/>
<circle cx="176.6" cy="723.3" r="1.95" fill="#ff7f0e"/>
<circle cx="186" cy="713.4" r="1.95" fill="#ff7f0e"/>
<path d="M139.10,771.90 L141.70,776.70 L136.50,776.70 Z" fill="#1f77b4"/>
<path d="M148.50,771.60 L151.10,776.40 L145.90,776.40 Z" fill="#1f77b4"/>
<path d="M158.00,771.40 L160.60,776.20 L155.40,776.20 Z" fill="#1f77b4"/>
<path d="M167.40,771.20 L170.00,776.00 L164.80,776.00 Z" fill="#1f77b4"/>
<path d="M176.60,770.00 L179.20,774.80 L174.00,774.80 Z" fill="#1f77b4"/>
<path d="M186.00,768.20 L188.60,773.00 L183.40,773.00 Z" fill="#1f77b4"/>
</g>
<rect x="128.14999999999998" y="671.2" width="70.4" height="105.5" fill="none" stroke="#111" stroke-width="1.4"/>
<line x1="128.15" y1="776.7" x2="128.15" y2="779.9000000000001" stroke="#111" stroke-width="1"/>
<line x1="175.55" y1="776.7" x2="175.55" y2="779.9000000000001" stroke="#111" stroke-width="1"/>
<text x="125.13" y="790.90" font-size="12.3" fill="#111" textLength="6.84" lengthAdjust="spacingAndGlyphs" stroke="#111" stroke-width="0" >0</text>
<text x="167.49" y="790.90" font-size="12.3" fill="#111" textLength="15.32" lengthAdjust="spacingAndGlyphs" stroke="#111" stroke-width="0" >20</text>
<clipPath id="dc2"><rect x="209.0" y="671.2" width="70.4" height="105.5"/></clipPath>
<g clip-path="url(#dc2)">
<circle cx="211.8" cy="774.9" r="1.95" fill="#ff7f0e"/>
<circle cx="221" cy="767.2" r="1.95" fill="#ff7f0e"/>
<circle cx="230.7" cy="761" r="1.95" fill="#ff7f0e"/>
<circle cx="239.9" cy="753.8" r="1.95" fill="#ff7f0e"/>
<circle cx="249" cy="745.1" r="1.95" fill="#ff7f0e"/>
<circle cx="258.5" cy="741.9" r="1.95" fill="#ff7f0e"/>
<circle cx="267.9" cy="737.2" r="1.95" fill="#ff7f0e"/>
<path d="M221.00,772.40 L223.60,777.20 L218.40,777.20 Z" fill="#1f77b4"/>
<path d="M230.70,772.00 L233.30,776.80 L228.10,776.80 Z" fill="#1f77b4"/>
<path d="M239.90,771.70 L242.50,776.50 L237.30,776.50 Z" fill="#1f77b4"/>
<path d="M249.00,771.50 L251.60,776.30 L246.40,776.30 Z" fill="#1f77b4"/>
<path d="M258.50,769.40 L261.10,774.20 L255.90,774.20 Z" fill="#1f77b4"/>
<path d="M267.90,767.50 L270.50,772.30 L265.30,772.30 Z" fill="#1f77b4"/>
</g>
<rect x="209.0" y="671.2" width="70.4" height="105.5" fill="none" stroke="#111" stroke-width="1.4"/>
<line x1="209.00" y1="776.7" x2="209.00" y2="779.9000000000001" stroke="#111" stroke-width="1"/>
<line x1="256.40" y1="776.7" x2="256.40" y2="779.9000000000001" stroke="#111" stroke-width="1"/>
<text x="205.98" y="790.90" font-size="12.3" fill="#111" textLength="6.84" lengthAdjust="spacingAndGlyphs" stroke="#111" stroke-width="0" >0</text>
<text x="248.34" y="790.90" font-size="12.3" fill="#111" textLength="15.32" lengthAdjust="spacingAndGlyphs" stroke="#111" stroke-width="0" >20</text>
<clipPath id="dc3"><rect x="289.84999999999997" y="671.2" width="70.4" height="105.5"/></clipPath>
<g clip-path="url(#dc3)">
<circle cx="293.6" cy="775.9" r="1.95" fill="#ff7f0e"/>
<circle cx="303.1" cy="771.7" r="1.95" fill="#ff7f0e"/>
<circle cx="312.3" cy="768.2" r="1.95" fill="#ff7f0e"/>
<circle cx="321.7" cy="766.2" r="1.95" fill="#ff7f0e"/>
<circle cx="330.9" cy="762.8" r="1.95" fill="#ff7f0e"/>
<circle cx="340.3" cy="759.3" r="1.95" fill="#ff7f0e"/>
<circle cx="349.7" cy="757.6" r="1.95" fill="#ff7f0e"/>
<path d="M303.10,772.40 L305.70,777.20 L300.50,777.20 Z" fill="#1f77b4"/>
<path d="M312.30,770.00 L314.90,774.80 L309.70,774.80 Z" fill="#1f77b4"/>
<path d="M321.70,768.70 L324.30,773.50 L319.10,773.50 Z" fill="#1f77b4"/>
<path d="M330.90,765.20 L333.50,770.00 L328.30,770.00 Z" fill="#1f77b4"/>
<path d="M340.30,765.70 L342.90,770.50 L337.70,770.50 Z" fill="#1f77b4"/>
<path d="M349.70,763.20 L352.30,768.00 L347.10,768.00 Z" fill="#1f77b4"/>
</g>
<rect x="289.84999999999997" y="671.2" width="70.4" height="105.5" fill="none" stroke="#111" stroke-width="1.4"/>
<line x1="289.85" y1="776.7" x2="289.85" y2="779.9000000000001" stroke="#111" stroke-width="1"/>
<line x1="337.25" y1="776.7" x2="337.25" y2="779.9000000000001" stroke="#111" stroke-width="1"/>
<text x="286.83" y="790.90" font-size="12.3" fill="#111" textLength="6.84" lengthAdjust="spacingAndGlyphs" stroke="#111" stroke-width="0" >0</text>
<text x="329.19" y="790.90" font-size="12.3" fill="#111" textLength="15.32" lengthAdjust="spacingAndGlyphs" stroke="#111" stroke-width="0" >20</text>
<clipPath id="dc4"><rect x="370.7" y="671.2" width="70.4" height="105.5"/></clipPath>
<g clip-path="url(#dc4)">
<circle cx="375.5" cy="776.2" r="1.95" fill="#ff7f0e"/>
<circle cx="385" cy="774.9" r="1.95" fill="#ff7f0e"/>
<circle cx="394.6" cy="773.4" r="1.95" fill="#ff7f0e"/>
<circle cx="403.6" cy="771.7" r="1.95" fill="#ff7f0e"/>
<circle cx="413.3" cy="770.5" r="1.95" fill="#ff7f0e"/>
<circle cx="422.7" cy="768.5" r="1.95" fill="#ff7f0e"/>
<circle cx="431.9" cy="766.7" r="1.95" fill="#ff7f0e"/>
<path d="M385.00,770.40 L387.60,775.20 L382.40,775.20 Z" fill="#1f77b4"/>
<path d="M394.60,768.70 L397.20,773.50 L392.00,773.50 Z" fill="#1f77b4"/>
<path d="M403.60,766.20 L406.20,771.00 L401.00,771.00 Z" fill="#1f77b4"/>
<path d="M413.30,763.00 L415.90,767.80 L410.70,767.80 Z" fill="#1f77b4"/>
<path d="M422.70,760.30 L425.30,765.10 L420.10,765.10 Z" fill="#1f77b4"/>
<path d="M431.90,758.00 L434.50,762.80 L429.30,762.80 Z" fill="#1f77b4"/>
</g>
<rect x="370.7" y="671.2" width="70.4" height="105.5" fill="none" stroke="#111" stroke-width="1.4"/>
<line x1="370.70" y1="776.7" x2="370.70" y2="779.9000000000001" stroke="#111" stroke-width="1"/>
<line x1="418.10" y1="776.7" x2="418.10" y2="779.9000000000001" stroke="#111" stroke-width="1"/>
<text x="367.68" y="790.90" font-size="12.3" fill="#111" textLength="6.84" lengthAdjust="spacingAndGlyphs" stroke="#111" stroke-width="0" >0</text>
<text x="410.04" y="790.90" font-size="12.3" fill="#111" textLength="15.32" lengthAdjust="spacingAndGlyphs" stroke="#111" stroke-width="0" >20</text>
<clipPath id="dc5"><rect x="451.55" y="671.2" width="70.4" height="105.5"/></clipPath>
<g clip-path="url(#dc5)">
<circle cx="457.9" cy="775.6" r="1.95" fill="#ff7f0e"/>
<circle cx="466.5" cy="775.5" r="1.95" fill="#ff7f0e"/>
<circle cx="476.2" cy="775" r="1.95" fill="#ff7f0e"/>
<circle cx="485.8" cy="774.2" r="1.95" fill="#ff7f0e"/>
<circle cx="495.2" cy="773.8" r="1.95" fill="#ff7f0e"/>
<circle cx="504.5" cy="773.6" r="1.95" fill="#ff7f0e"/>
<circle cx="514.1" cy="772.8" r="1.95" fill="#ff7f0e"/>
<path d="M466.50,772.60 L469.10,777.40 L463.90,777.40 Z" fill="#1f77b4"/>
<path d="M476.20,771.10 L478.80,775.90 L473.60,775.90 Z" fill="#1f77b4"/>
<path d="M485.80,770.00 L488.40,774.80 L483.20,774.80 Z" fill="#1f77b4"/>
<path d="M495.20,768.80 L497.80,773.60 L492.60,773.60 Z" fill="#1f77b4"/>
<path d="M504.50,767.70 L507.10,772.50 L501.90,772.50 Z" fill="#1f77b4"/>
<path d="M514.10,767.40 L516.70,772.20 L511.50,772.20 Z" fill="#1f77b4"/>
</g>
<rect x="451.55" y="671.2" width="70.4" height="105.5" fill="none" stroke="#111" stroke-width="1.4"/>
<line x1="451.55" y1="776.7" x2="451.55" y2="779.9000000000001" stroke="#111" stroke-width="1"/>
<line x1="498.95" y1="776.7" x2="498.95" y2="779.9000000000001" stroke="#111" stroke-width="1"/>
<text x="448.53" y="790.90" font-size="12.3" fill="#111" textLength="6.84" lengthAdjust="spacingAndGlyphs" stroke="#111" stroke-width="0" >0</text>
<text x="490.89" y="790.90" font-size="12.3" fill="#111" textLength="15.32" lengthAdjust="spacingAndGlyphs" stroke="#111" stroke-width="0" >20</text>
<clipPath id="dc6"><rect x="532.4" y="671.2" width="70.4" height="105.5"/></clipPath>
<g clip-path="url(#dc6)">
<circle cx="539.1" cy="776" r="1.95" fill="#ff7f0e"/>
<circle cx="549.1" cy="776" r="1.95" fill="#ff7f0e"/>
<circle cx="558.4" cy="775.8" r="1.95" fill="#ff7f0e"/>
<circle cx="567.7" cy="775.5" r="1.95" fill="#ff7f0e"/>
<circle cx="577.1" cy="775.2" r="1.95" fill="#ff7f0e"/>
<circle cx="586.4" cy="775" r="1.95" fill="#ff7f0e"/>
<circle cx="595.7" cy="774.6" r="1.95" fill="#ff7f0e"/>
<path d="M549.10,773.00 L551.70,777.80 L546.50,777.80 Z" fill="#1f77b4"/>
<path d="M558.40,772.60 L561.00,777.40 L555.80,777.40 Z" fill="#1f77b4"/>
<path d="M567.70,772.20 L570.30,777.00 L565.10,777.00 Z" fill="#1f77b4"/>
<path d="M577.10,771.80 L579.70,776.60 L574.50,776.60 Z" fill="#1f77b4"/>
<path d="M586.40,771.20 L589.00,776.00 L583.80,776.00 Z" fill="#1f77b4"/>
<path d="M595.70,770.70 L598.30,775.50 L593.10,775.50 Z" fill="#1f77b4"/>
</g>
<rect x="532.4" y="671.2" width="70.4" height="105.5" fill="none" stroke="#111" stroke-width="1.4"/>
<line x1="532.40" y1="776.7" x2="532.40" y2="779.9000000000001" stroke="#111" stroke-width="1"/>
<line x1="579.80" y1="776.7" x2="579.80" y2="779.9000000000001" stroke="#111" stroke-width="1"/>
<text x="529.38" y="790.90" font-size="12.3" fill="#111" textLength="6.84" lengthAdjust="spacingAndGlyphs" stroke="#111" stroke-width="0" >0</text>
<text x="571.74" y="790.90" font-size="12.3" fill="#111" textLength="15.32" lengthAdjust="spacingAndGlyphs" stroke="#111" stroke-width="0" >20</text>
<clipPath id="dc7"><rect x="613.2499999999999" y="671.2" width="70.4" height="105.5"/></clipPath>
<g clip-path="url(#dc7)">
<circle cx="621.7" cy="776" r="1.95" fill="#ff7f0e"/>
<circle cx="631" cy="776" r="1.95" fill="#ff7f0e"/>
<circle cx="640.3" cy="775.5" r="1.95" fill="#ff7f0e"/>
<circle cx="649.7" cy="775" r="1.95" fill="#ff7f0e"/>
<circle cx="659" cy="774.5" r="1.95" fill="#ff7f0e"/>
<circle cx="668.3" cy="774" r="1.95" fill="#ff7f0e"/>
<circle cx="677.6" cy="773" r="1.95" fill="#ff7f0e"/>
<path d="M631.00,773.00 L633.60,777.80 L628.40,777.80 Z" fill="#1f77b4"/>
<path d="M640.30,772.80 L642.90,777.60 L637.70,777.60 Z" fill="#1f77b4"/>
<path d="M649.70,770.70 L652.30,775.50 L647.10,775.50 Z" fill="#1f77b4"/>
<path d="M659.00,770.00 L661.60,774.80 L656.40,774.80 Z" fill="#1f77b4"/>
<path d="M668.30,768.90 L670.90,773.70 L665.70,773.70 Z" fill="#1f77b4"/>
<path d="M677.60,768.10 L680.20,772.90 L675.00,772.90 Z" fill="#1f77b4"/>
</g>
<rect x="613.2499999999999" y="671.2" width="70.4" height="105.5" fill="none" stroke="#111" stroke-width="1.4"/>
<line x1="613.25" y1="776.7" x2="613.25" y2="779.9000000000001" stroke="#111" stroke-width="1"/>
<line x1="660.65" y1="776.7" x2="660.65" y2="779.9000000000001" stroke="#111" stroke-width="1"/>
<text x="610.23" y="790.90" font-size="12.3" fill="#111" textLength="6.84" lengthAdjust="spacingAndGlyphs" stroke="#111" stroke-width="0" >0</text>
<text x="652.59" y="790.90" font-size="12.3" fill="#111" textLength="15.32" lengthAdjust="spacingAndGlyphs" stroke="#111" stroke-width="0" >20</text>
<line x1="44.3" y1="776.7" x2="47.3" y2="776.7" stroke="#111" stroke-width="1"/>
<line x1="44.3" y1="750.6" x2="47.3" y2="750.6" stroke="#111" stroke-width="1"/>
<line x1="44.3" y1="724.2" x2="47.3" y2="724.2" stroke="#111" stroke-width="1"/>
<line x1="44.3" y1="697.9" x2="47.3" y2="697.9" stroke="#111" stroke-width="1"/>
<text transform="translate(39.90,757.60) rotate(-90)" x="0" y="0" font-size="15.6" fill="#111" textLength="70.49" lengthAdjust="spacingAndGlyphs" stroke="#111" stroke-width="0.1">Peak Area</text>
<text x="313.90" y="807.50" font-size="18.2" fill="#111" textLength="86.51" lengthAdjust="spacingAndGlyphs" stroke="#111" stroke-width="0.1" >Time (min)</text>
</svg>
</body></html>
